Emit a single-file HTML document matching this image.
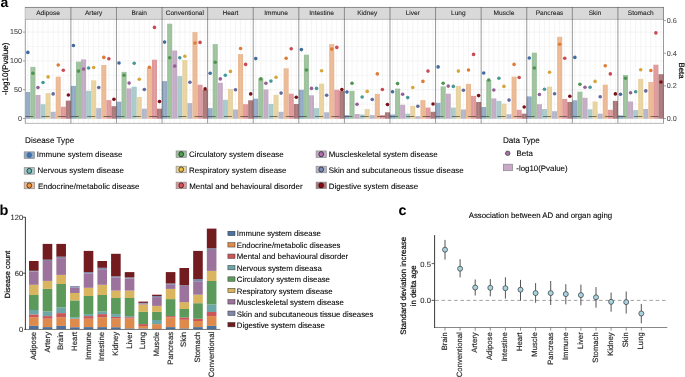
<!DOCTYPE html>
<html><head><meta charset="utf-8"><style>text{text-rendering:geometricPrecision}html,body{margin:0;padding:0;background:#fff;width:685px;height:377px;overflow:hidden;position:relative}</style></head><body>
<div style="position:absolute;left:0;top:0;width:685px;height:377px;will-change:transform"><svg width="685" height="377" viewBox="0 0 685 377" style="position:absolute;left:0;top:0" text-rendering="geometricPrecision" font-family='"Liberation Sans", sans-serif'>
<rect width="685" height="377" fill="#fff"/>
<text x="0.6" y="7.2" font-size="14.0" font-weight="bold" fill="#000">a</text>
<line x1="25.30" x2="25.30" y1="7.2" y2="123.2" stroke="#333" stroke-width="0.5"/>
<line x1="25.3" x2="663.5" y1="118.50" y2="118.50" stroke="#EBEBEB" stroke-width="0.6"/>
<line x1="25.3" x2="663.5" y1="89.70" y2="89.70" stroke="#EBEBEB" stroke-width="0.6"/>
<line x1="25.3" x2="663.5" y1="60.90" y2="60.90" stroke="#EBEBEB" stroke-width="0.6"/>
<line x1="25.3" x2="663.5" y1="32.10" y2="32.10" stroke="#EBEBEB" stroke-width="0.6"/>
<line x1="25.3" x2="663.5" y1="104.10" y2="104.10" stroke="#EBEBEB" stroke-width="0.4"/>
<line x1="25.3" x2="663.5" y1="75.30" y2="75.30" stroke="#EBEBEB" stroke-width="0.4"/>
<line x1="25.3" x2="663.5" y1="46.50" y2="46.50" stroke="#EBEBEB" stroke-width="0.4"/>
<line x1="27.83" x2="27.83" y1="19.5" y2="123.2" stroke="#EBEBEB" stroke-width="0.5"/>
<line x1="32.90" x2="32.90" y1="19.5" y2="123.2" stroke="#EBEBEB" stroke-width="0.5"/>
<line x1="37.96" x2="37.96" y1="19.5" y2="123.2" stroke="#EBEBEB" stroke-width="0.5"/>
<line x1="43.03" x2="43.03" y1="19.5" y2="123.2" stroke="#EBEBEB" stroke-width="0.5"/>
<line x1="48.09" x2="48.09" y1="19.5" y2="123.2" stroke="#EBEBEB" stroke-width="0.5"/>
<line x1="53.16" x2="53.16" y1="19.5" y2="123.2" stroke="#EBEBEB" stroke-width="0.5"/>
<line x1="58.22" x2="58.22" y1="19.5" y2="123.2" stroke="#EBEBEB" stroke-width="0.5"/>
<line x1="63.29" x2="63.29" y1="19.5" y2="123.2" stroke="#EBEBEB" stroke-width="0.5"/>
<line x1="68.35" x2="68.35" y1="19.5" y2="123.2" stroke="#EBEBEB" stroke-width="0.5"/>
<line x1="73.42" x2="73.42" y1="19.5" y2="123.2" stroke="#EBEBEB" stroke-width="0.5"/>
<line x1="78.48" x2="78.48" y1="19.5" y2="123.2" stroke="#EBEBEB" stroke-width="0.5"/>
<line x1="83.55" x2="83.55" y1="19.5" y2="123.2" stroke="#EBEBEB" stroke-width="0.5"/>
<line x1="88.61" x2="88.61" y1="19.5" y2="123.2" stroke="#EBEBEB" stroke-width="0.5"/>
<line x1="93.68" x2="93.68" y1="19.5" y2="123.2" stroke="#EBEBEB" stroke-width="0.5"/>
<line x1="98.74" x2="98.74" y1="19.5" y2="123.2" stroke="#EBEBEB" stroke-width="0.5"/>
<line x1="103.81" x2="103.81" y1="19.5" y2="123.2" stroke="#EBEBEB" stroke-width="0.5"/>
<line x1="108.87" x2="108.87" y1="19.5" y2="123.2" stroke="#EBEBEB" stroke-width="0.5"/>
<line x1="113.94" x2="113.94" y1="19.5" y2="123.2" stroke="#EBEBEB" stroke-width="0.5"/>
<line x1="119.00" x2="119.00" y1="19.5" y2="123.2" stroke="#EBEBEB" stroke-width="0.5"/>
<line x1="124.07" x2="124.07" y1="19.5" y2="123.2" stroke="#EBEBEB" stroke-width="0.5"/>
<line x1="129.13" x2="129.13" y1="19.5" y2="123.2" stroke="#EBEBEB" stroke-width="0.5"/>
<line x1="134.20" x2="134.20" y1="19.5" y2="123.2" stroke="#EBEBEB" stroke-width="0.5"/>
<line x1="139.26" x2="139.26" y1="19.5" y2="123.2" stroke="#EBEBEB" stroke-width="0.5"/>
<line x1="144.33" x2="144.33" y1="19.5" y2="123.2" stroke="#EBEBEB" stroke-width="0.5"/>
<line x1="149.39" x2="149.39" y1="19.5" y2="123.2" stroke="#EBEBEB" stroke-width="0.5"/>
<line x1="154.46" x2="154.46" y1="19.5" y2="123.2" stroke="#EBEBEB" stroke-width="0.5"/>
<line x1="159.52" x2="159.52" y1="19.5" y2="123.2" stroke="#EBEBEB" stroke-width="0.5"/>
<line x1="164.59" x2="164.59" y1="19.5" y2="123.2" stroke="#EBEBEB" stroke-width="0.5"/>
<line x1="169.65" x2="169.65" y1="19.5" y2="123.2" stroke="#EBEBEB" stroke-width="0.5"/>
<line x1="174.72" x2="174.72" y1="19.5" y2="123.2" stroke="#EBEBEB" stroke-width="0.5"/>
<line x1="179.78" x2="179.78" y1="19.5" y2="123.2" stroke="#EBEBEB" stroke-width="0.5"/>
<line x1="184.85" x2="184.85" y1="19.5" y2="123.2" stroke="#EBEBEB" stroke-width="0.5"/>
<line x1="189.92" x2="189.92" y1="19.5" y2="123.2" stroke="#EBEBEB" stroke-width="0.5"/>
<line x1="194.98" x2="194.98" y1="19.5" y2="123.2" stroke="#EBEBEB" stroke-width="0.5"/>
<line x1="200.05" x2="200.05" y1="19.5" y2="123.2" stroke="#EBEBEB" stroke-width="0.5"/>
<line x1="205.11" x2="205.11" y1="19.5" y2="123.2" stroke="#EBEBEB" stroke-width="0.5"/>
<line x1="210.18" x2="210.18" y1="19.5" y2="123.2" stroke="#EBEBEB" stroke-width="0.5"/>
<line x1="215.24" x2="215.24" y1="19.5" y2="123.2" stroke="#EBEBEB" stroke-width="0.5"/>
<line x1="220.31" x2="220.31" y1="19.5" y2="123.2" stroke="#EBEBEB" stroke-width="0.5"/>
<line x1="225.37" x2="225.37" y1="19.5" y2="123.2" stroke="#EBEBEB" stroke-width="0.5"/>
<line x1="230.44" x2="230.44" y1="19.5" y2="123.2" stroke="#EBEBEB" stroke-width="0.5"/>
<line x1="235.50" x2="235.50" y1="19.5" y2="123.2" stroke="#EBEBEB" stroke-width="0.5"/>
<line x1="240.57" x2="240.57" y1="19.5" y2="123.2" stroke="#EBEBEB" stroke-width="0.5"/>
<line x1="245.63" x2="245.63" y1="19.5" y2="123.2" stroke="#EBEBEB" stroke-width="0.5"/>
<line x1="250.70" x2="250.70" y1="19.5" y2="123.2" stroke="#EBEBEB" stroke-width="0.5"/>
<line x1="255.76" x2="255.76" y1="19.5" y2="123.2" stroke="#EBEBEB" stroke-width="0.5"/>
<line x1="260.83" x2="260.83" y1="19.5" y2="123.2" stroke="#EBEBEB" stroke-width="0.5"/>
<line x1="265.89" x2="265.89" y1="19.5" y2="123.2" stroke="#EBEBEB" stroke-width="0.5"/>
<line x1="270.96" x2="270.96" y1="19.5" y2="123.2" stroke="#EBEBEB" stroke-width="0.5"/>
<line x1="276.02" x2="276.02" y1="19.5" y2="123.2" stroke="#EBEBEB" stroke-width="0.5"/>
<line x1="281.09" x2="281.09" y1="19.5" y2="123.2" stroke="#EBEBEB" stroke-width="0.5"/>
<line x1="286.15" x2="286.15" y1="19.5" y2="123.2" stroke="#EBEBEB" stroke-width="0.5"/>
<line x1="291.22" x2="291.22" y1="19.5" y2="123.2" stroke="#EBEBEB" stroke-width="0.5"/>
<line x1="296.28" x2="296.28" y1="19.5" y2="123.2" stroke="#EBEBEB" stroke-width="0.5"/>
<line x1="301.35" x2="301.35" y1="19.5" y2="123.2" stroke="#EBEBEB" stroke-width="0.5"/>
<line x1="306.41" x2="306.41" y1="19.5" y2="123.2" stroke="#EBEBEB" stroke-width="0.5"/>
<line x1="311.48" x2="311.48" y1="19.5" y2="123.2" stroke="#EBEBEB" stroke-width="0.5"/>
<line x1="316.54" x2="316.54" y1="19.5" y2="123.2" stroke="#EBEBEB" stroke-width="0.5"/>
<line x1="321.61" x2="321.61" y1="19.5" y2="123.2" stroke="#EBEBEB" stroke-width="0.5"/>
<line x1="326.67" x2="326.67" y1="19.5" y2="123.2" stroke="#EBEBEB" stroke-width="0.5"/>
<line x1="331.74" x2="331.74" y1="19.5" y2="123.2" stroke="#EBEBEB" stroke-width="0.5"/>
<line x1="336.80" x2="336.80" y1="19.5" y2="123.2" stroke="#EBEBEB" stroke-width="0.5"/>
<line x1="341.87" x2="341.87" y1="19.5" y2="123.2" stroke="#EBEBEB" stroke-width="0.5"/>
<line x1="346.93" x2="346.93" y1="19.5" y2="123.2" stroke="#EBEBEB" stroke-width="0.5"/>
<line x1="352.00" x2="352.00" y1="19.5" y2="123.2" stroke="#EBEBEB" stroke-width="0.5"/>
<line x1="357.06" x2="357.06" y1="19.5" y2="123.2" stroke="#EBEBEB" stroke-width="0.5"/>
<line x1="362.13" x2="362.13" y1="19.5" y2="123.2" stroke="#EBEBEB" stroke-width="0.5"/>
<line x1="367.19" x2="367.19" y1="19.5" y2="123.2" stroke="#EBEBEB" stroke-width="0.5"/>
<line x1="372.26" x2="372.26" y1="19.5" y2="123.2" stroke="#EBEBEB" stroke-width="0.5"/>
<line x1="377.32" x2="377.32" y1="19.5" y2="123.2" stroke="#EBEBEB" stroke-width="0.5"/>
<line x1="382.39" x2="382.39" y1="19.5" y2="123.2" stroke="#EBEBEB" stroke-width="0.5"/>
<line x1="387.45" x2="387.45" y1="19.5" y2="123.2" stroke="#EBEBEB" stroke-width="0.5"/>
<line x1="392.52" x2="392.52" y1="19.5" y2="123.2" stroke="#EBEBEB" stroke-width="0.5"/>
<line x1="397.58" x2="397.58" y1="19.5" y2="123.2" stroke="#EBEBEB" stroke-width="0.5"/>
<line x1="402.65" x2="402.65" y1="19.5" y2="123.2" stroke="#EBEBEB" stroke-width="0.5"/>
<line x1="407.71" x2="407.71" y1="19.5" y2="123.2" stroke="#EBEBEB" stroke-width="0.5"/>
<line x1="412.78" x2="412.78" y1="19.5" y2="123.2" stroke="#EBEBEB" stroke-width="0.5"/>
<line x1="417.84" x2="417.84" y1="19.5" y2="123.2" stroke="#EBEBEB" stroke-width="0.5"/>
<line x1="422.91" x2="422.91" y1="19.5" y2="123.2" stroke="#EBEBEB" stroke-width="0.5"/>
<line x1="427.97" x2="427.97" y1="19.5" y2="123.2" stroke="#EBEBEB" stroke-width="0.5"/>
<line x1="433.04" x2="433.04" y1="19.5" y2="123.2" stroke="#EBEBEB" stroke-width="0.5"/>
<line x1="438.10" x2="438.10" y1="19.5" y2="123.2" stroke="#EBEBEB" stroke-width="0.5"/>
<line x1="443.17" x2="443.17" y1="19.5" y2="123.2" stroke="#EBEBEB" stroke-width="0.5"/>
<line x1="448.23" x2="448.23" y1="19.5" y2="123.2" stroke="#EBEBEB" stroke-width="0.5"/>
<line x1="453.30" x2="453.30" y1="19.5" y2="123.2" stroke="#EBEBEB" stroke-width="0.5"/>
<line x1="458.36" x2="458.36" y1="19.5" y2="123.2" stroke="#EBEBEB" stroke-width="0.5"/>
<line x1="463.43" x2="463.43" y1="19.5" y2="123.2" stroke="#EBEBEB" stroke-width="0.5"/>
<line x1="468.49" x2="468.49" y1="19.5" y2="123.2" stroke="#EBEBEB" stroke-width="0.5"/>
<line x1="473.56" x2="473.56" y1="19.5" y2="123.2" stroke="#EBEBEB" stroke-width="0.5"/>
<line x1="478.62" x2="478.62" y1="19.5" y2="123.2" stroke="#EBEBEB" stroke-width="0.5"/>
<line x1="483.69" x2="483.69" y1="19.5" y2="123.2" stroke="#EBEBEB" stroke-width="0.5"/>
<line x1="488.75" x2="488.75" y1="19.5" y2="123.2" stroke="#EBEBEB" stroke-width="0.5"/>
<line x1="493.82" x2="493.82" y1="19.5" y2="123.2" stroke="#EBEBEB" stroke-width="0.5"/>
<line x1="498.88" x2="498.88" y1="19.5" y2="123.2" stroke="#EBEBEB" stroke-width="0.5"/>
<line x1="503.95" x2="503.95" y1="19.5" y2="123.2" stroke="#EBEBEB" stroke-width="0.5"/>
<line x1="509.02" x2="509.02" y1="19.5" y2="123.2" stroke="#EBEBEB" stroke-width="0.5"/>
<line x1="514.08" x2="514.08" y1="19.5" y2="123.2" stroke="#EBEBEB" stroke-width="0.5"/>
<line x1="519.15" x2="519.15" y1="19.5" y2="123.2" stroke="#EBEBEB" stroke-width="0.5"/>
<line x1="524.21" x2="524.21" y1="19.5" y2="123.2" stroke="#EBEBEB" stroke-width="0.5"/>
<line x1="529.28" x2="529.28" y1="19.5" y2="123.2" stroke="#EBEBEB" stroke-width="0.5"/>
<line x1="534.34" x2="534.34" y1="19.5" y2="123.2" stroke="#EBEBEB" stroke-width="0.5"/>
<line x1="539.41" x2="539.41" y1="19.5" y2="123.2" stroke="#EBEBEB" stroke-width="0.5"/>
<line x1="544.47" x2="544.47" y1="19.5" y2="123.2" stroke="#EBEBEB" stroke-width="0.5"/>
<line x1="549.54" x2="549.54" y1="19.5" y2="123.2" stroke="#EBEBEB" stroke-width="0.5"/>
<line x1="554.60" x2="554.60" y1="19.5" y2="123.2" stroke="#EBEBEB" stroke-width="0.5"/>
<line x1="559.67" x2="559.67" y1="19.5" y2="123.2" stroke="#EBEBEB" stroke-width="0.5"/>
<line x1="564.73" x2="564.73" y1="19.5" y2="123.2" stroke="#EBEBEB" stroke-width="0.5"/>
<line x1="569.80" x2="569.80" y1="19.5" y2="123.2" stroke="#EBEBEB" stroke-width="0.5"/>
<line x1="574.86" x2="574.86" y1="19.5" y2="123.2" stroke="#EBEBEB" stroke-width="0.5"/>
<line x1="579.93" x2="579.93" y1="19.5" y2="123.2" stroke="#EBEBEB" stroke-width="0.5"/>
<line x1="584.99" x2="584.99" y1="19.5" y2="123.2" stroke="#EBEBEB" stroke-width="0.5"/>
<line x1="590.06" x2="590.06" y1="19.5" y2="123.2" stroke="#EBEBEB" stroke-width="0.5"/>
<line x1="595.12" x2="595.12" y1="19.5" y2="123.2" stroke="#EBEBEB" stroke-width="0.5"/>
<line x1="600.19" x2="600.19" y1="19.5" y2="123.2" stroke="#EBEBEB" stroke-width="0.5"/>
<line x1="605.25" x2="605.25" y1="19.5" y2="123.2" stroke="#EBEBEB" stroke-width="0.5"/>
<line x1="610.32" x2="610.32" y1="19.5" y2="123.2" stroke="#EBEBEB" stroke-width="0.5"/>
<line x1="615.38" x2="615.38" y1="19.5" y2="123.2" stroke="#EBEBEB" stroke-width="0.5"/>
<line x1="620.45" x2="620.45" y1="19.5" y2="123.2" stroke="#EBEBEB" stroke-width="0.5"/>
<line x1="625.51" x2="625.51" y1="19.5" y2="123.2" stroke="#EBEBEB" stroke-width="0.5"/>
<line x1="630.58" x2="630.58" y1="19.5" y2="123.2" stroke="#EBEBEB" stroke-width="0.5"/>
<line x1="635.64" x2="635.64" y1="19.5" y2="123.2" stroke="#EBEBEB" stroke-width="0.5"/>
<line x1="640.71" x2="640.71" y1="19.5" y2="123.2" stroke="#EBEBEB" stroke-width="0.5"/>
<line x1="645.77" x2="645.77" y1="19.5" y2="123.2" stroke="#EBEBEB" stroke-width="0.5"/>
<line x1="650.84" x2="650.84" y1="19.5" y2="123.2" stroke="#EBEBEB" stroke-width="0.5"/>
<line x1="655.90" x2="655.90" y1="19.5" y2="123.2" stroke="#EBEBEB" stroke-width="0.5"/>
<line x1="660.97" x2="660.97" y1="19.5" y2="123.2" stroke="#EBEBEB" stroke-width="0.5"/>
<rect x="25.30" y="92.00" width="5.07" height="26.70" fill="#92AAC6"/>
<rect x="30.37" y="66.90" width="5.07" height="51.80" fill="#9DC29D"/>
<rect x="35.43" y="95.00" width="5.07" height="23.70" fill="#C4ABC4"/>
<rect x="40.50" y="104.20" width="5.07" height="14.50" fill="#A7CACA"/>
<rect x="45.56" y="93.10" width="5.07" height="25.60" fill="#E8D3A0"/>
<rect x="50.63" y="111.80" width="5.07" height="6.90" fill="#B2B6CB"/>
<rect x="55.69" y="76.70" width="5.07" height="42.00" fill="#EBB994"/>
<rect x="60.76" y="106.70" width="5.07" height="12.00" fill="#E0999B"/>
<rect x="65.82" y="100.60" width="5.07" height="18.10" fill="#AB7779"/>
<rect x="70.89" y="85.90" width="5.07" height="32.80" fill="#92AAC6"/>
<rect x="75.95" y="61.60" width="5.07" height="57.10" fill="#9DC29D"/>
<rect x="81.02" y="59.40" width="5.07" height="59.30" fill="#C4ABC4"/>
<rect x="86.08" y="90.90" width="5.07" height="27.80" fill="#A7CACA"/>
<rect x="91.15" y="80.30" width="5.07" height="38.40" fill="#E8D3A0"/>
<rect x="96.21" y="108.10" width="5.07" height="10.60" fill="#B2B6CB"/>
<rect x="101.28" y="65.00" width="5.07" height="53.70" fill="#EBB994"/>
<rect x="106.34" y="100.10" width="5.07" height="18.60" fill="#E0999B"/>
<rect x="111.41" y="106.20" width="5.07" height="12.50" fill="#AB7779"/>
<rect x="116.47" y="101.70" width="5.07" height="17.00" fill="#92AAC6"/>
<rect x="121.54" y="71.90" width="5.07" height="46.80" fill="#9DC29D"/>
<rect x="126.60" y="88.40" width="5.07" height="30.30" fill="#C4ABC4"/>
<rect x="131.67" y="86.70" width="5.07" height="32.00" fill="#A7CACA"/>
<rect x="136.73" y="97.00" width="5.07" height="21.70" fill="#E8D3A0"/>
<rect x="141.80" y="108.70" width="5.07" height="10.00" fill="#B2B6CB"/>
<rect x="146.86" y="67.70" width="5.07" height="51.00" fill="#EBB994"/>
<rect x="151.93" y="59.70" width="5.07" height="59.00" fill="#E0999B"/>
<rect x="156.99" y="108.70" width="5.07" height="10.00" fill="#AB7779"/>
<rect x="162.06" y="81.10" width="5.07" height="37.60" fill="#92AAC6"/>
<rect x="167.12" y="23.70" width="5.07" height="95.00" fill="#9DC29D"/>
<rect x="172.19" y="50.50" width="5.07" height="68.20" fill="#C4ABC4"/>
<rect x="177.25" y="76.10" width="5.07" height="42.60" fill="#A7CACA"/>
<rect x="182.32" y="60.00" width="5.07" height="58.70" fill="#E8D3A0"/>
<rect x="187.38" y="103.10" width="5.07" height="15.60" fill="#B2B6CB"/>
<rect x="192.45" y="32.10" width="5.07" height="86.60" fill="#EBB994"/>
<rect x="197.51" y="84.70" width="5.07" height="34.00" fill="#E0999B"/>
<rect x="202.58" y="90.00" width="5.07" height="28.70" fill="#AB7779"/>
<rect x="207.64" y="108.10" width="5.07" height="10.60" fill="#92AAC6"/>
<rect x="212.71" y="44.10" width="5.07" height="74.60" fill="#9DC29D"/>
<rect x="217.77" y="82.80" width="5.07" height="35.90" fill="#C4ABC4"/>
<rect x="222.84" y="99.80" width="5.07" height="18.90" fill="#A7CACA"/>
<rect x="227.90" y="88.90" width="5.07" height="29.80" fill="#E8D3A0"/>
<rect x="232.97" y="109.50" width="5.07" height="9.20" fill="#B2B6CB"/>
<rect x="238.03" y="54.10" width="5.07" height="64.60" fill="#EBB994"/>
<rect x="243.10" y="104.20" width="5.07" height="14.50" fill="#E0999B"/>
<rect x="248.16" y="100.30" width="5.07" height="18.40" fill="#AB7779"/>
<rect x="253.23" y="98.70" width="5.07" height="20.00" fill="#92AAC6"/>
<rect x="258.29" y="78.30" width="5.07" height="40.40" fill="#9DC29D"/>
<rect x="263.36" y="89.50" width="5.07" height="29.20" fill="#C4ABC4"/>
<rect x="268.42" y="104.00" width="5.07" height="14.70" fill="#A7CACA"/>
<rect x="273.49" y="94.80" width="5.07" height="23.90" fill="#E8D3A0"/>
<rect x="278.55" y="111.80" width="5.07" height="6.90" fill="#B2B6CB"/>
<rect x="283.62" y="68.30" width="5.07" height="50.40" fill="#EBB994"/>
<rect x="288.68" y="93.70" width="5.07" height="25.00" fill="#E0999B"/>
<rect x="293.75" y="104.00" width="5.07" height="14.70" fill="#AB7779"/>
<rect x="298.81" y="89.80" width="5.07" height="28.90" fill="#92AAC6"/>
<rect x="303.88" y="54.70" width="5.07" height="64.00" fill="#9DC29D"/>
<rect x="308.94" y="95.30" width="5.07" height="23.40" fill="#C4ABC4"/>
<rect x="314.01" y="108.10" width="5.07" height="10.60" fill="#A7CACA"/>
<rect x="319.07" y="83.60" width="5.07" height="35.10" fill="#E8D3A0"/>
<rect x="324.14" y="112.30" width="5.07" height="6.40" fill="#B2B6CB"/>
<rect x="329.20" y="44.10" width="5.07" height="74.60" fill="#EBB994"/>
<rect x="334.27" y="89.80" width="5.07" height="28.90" fill="#E0999B"/>
<rect x="339.33" y="90.90" width="5.07" height="27.80" fill="#AB7779"/>
<rect x="344.40" y="115.10" width="5.07" height="3.60" fill="#92AAC6"/>
<rect x="349.47" y="90.90" width="5.07" height="27.80" fill="#9DC29D"/>
<rect x="354.53" y="114.00" width="5.07" height="4.70" fill="#C4ABC4"/>
<rect x="359.60" y="114.50" width="5.07" height="4.20" fill="#A7CACA"/>
<rect x="364.66" y="109.00" width="5.07" height="9.70" fill="#E8D3A0"/>
<rect x="369.73" y="115.10" width="5.07" height="3.60" fill="#B2B6CB"/>
<rect x="374.79" y="93.90" width="5.07" height="24.80" fill="#EBB994"/>
<rect x="379.86" y="115.10" width="5.07" height="3.60" fill="#E0999B"/>
<rect x="384.92" y="112.30" width="5.07" height="6.40" fill="#AB7779"/>
<rect x="389.99" y="114.50" width="5.07" height="4.20" fill="#92AAC6"/>
<rect x="395.05" y="88.60" width="5.07" height="30.10" fill="#9DC29D"/>
<rect x="400.12" y="104.80" width="5.07" height="13.90" fill="#C4ABC4"/>
<rect x="405.18" y="113.70" width="5.07" height="5.00" fill="#A7CACA"/>
<rect x="410.25" y="105.90" width="5.07" height="12.80" fill="#E8D3A0"/>
<rect x="415.31" y="116.20" width="5.07" height="2.50" fill="#B2B6CB"/>
<rect x="420.38" y="100.10" width="5.07" height="18.60" fill="#EBB994"/>
<rect x="425.44" y="107.60" width="5.07" height="11.10" fill="#E0999B"/>
<rect x="430.51" y="111.80" width="5.07" height="6.90" fill="#AB7779"/>
<rect x="435.57" y="102.80" width="5.07" height="15.90" fill="#92AAC6"/>
<rect x="440.64" y="86.40" width="5.07" height="32.30" fill="#9DC29D"/>
<rect x="445.70" y="93.70" width="5.07" height="25.00" fill="#C4ABC4"/>
<rect x="450.77" y="107.60" width="5.07" height="11.10" fill="#A7CACA"/>
<rect x="455.83" y="85.90" width="5.07" height="32.80" fill="#E8D3A0"/>
<rect x="460.90" y="109.50" width="5.07" height="9.20" fill="#B2B6CB"/>
<rect x="465.96" y="83.90" width="5.07" height="34.80" fill="#EBB994"/>
<rect x="471.03" y="95.90" width="5.07" height="22.80" fill="#E0999B"/>
<rect x="476.09" y="102.00" width="5.07" height="16.70" fill="#AB7779"/>
<rect x="481.16" y="107.00" width="5.07" height="11.70" fill="#92AAC6"/>
<rect x="486.22" y="80.00" width="5.07" height="38.70" fill="#9DC29D"/>
<rect x="491.29" y="98.40" width="5.07" height="20.30" fill="#C4ABC4"/>
<rect x="496.35" y="100.90" width="5.07" height="17.80" fill="#A7CACA"/>
<rect x="501.42" y="103.70" width="5.07" height="15.00" fill="#E8D3A0"/>
<rect x="506.48" y="114.30" width="5.07" height="4.40" fill="#B2B6CB"/>
<rect x="511.55" y="76.70" width="5.07" height="42.00" fill="#EBB994"/>
<rect x="516.61" y="109.80" width="5.07" height="8.90" fill="#E0999B"/>
<rect x="521.68" y="113.70" width="5.07" height="5.00" fill="#AB7779"/>
<rect x="526.74" y="96.40" width="5.07" height="22.30" fill="#92AAC6"/>
<rect x="531.81" y="52.70" width="5.07" height="66.00" fill="#9DC29D"/>
<rect x="536.87" y="104.20" width="5.07" height="14.50" fill="#C4ABC4"/>
<rect x="541.94" y="109.00" width="5.07" height="9.70" fill="#A7CACA"/>
<rect x="547.00" y="86.70" width="5.07" height="32.00" fill="#E8D3A0"/>
<rect x="552.07" y="111.20" width="5.07" height="7.50" fill="#B2B6CB"/>
<rect x="557.13" y="36.80" width="5.07" height="81.90" fill="#EBB994"/>
<rect x="562.20" y="98.90" width="5.07" height="19.80" fill="#E0999B"/>
<rect x="567.26" y="102.00" width="5.07" height="16.70" fill="#AB7779"/>
<rect x="572.33" y="100.30" width="5.07" height="18.40" fill="#92AAC6"/>
<rect x="577.39" y="91.70" width="5.07" height="27.00" fill="#9DC29D"/>
<rect x="582.46" y="97.80" width="5.07" height="20.90" fill="#C4ABC4"/>
<rect x="587.52" y="109.30" width="5.07" height="9.40" fill="#A7CACA"/>
<rect x="592.59" y="101.50" width="5.07" height="17.20" fill="#E8D3A0"/>
<rect x="597.65" y="113.70" width="5.07" height="5.00" fill="#B2B6CB"/>
<rect x="602.72" y="84.70" width="5.07" height="34.00" fill="#EBB994"/>
<rect x="607.78" y="109.80" width="5.07" height="8.90" fill="#E0999B"/>
<rect x="612.85" y="100.90" width="5.07" height="17.80" fill="#AB7779"/>
<rect x="617.91" y="115.40" width="5.07" height="3.30" fill="#92AAC6"/>
<rect x="622.98" y="75.00" width="5.07" height="43.70" fill="#9DC29D"/>
<rect x="628.04" y="101.50" width="5.07" height="17.20" fill="#C4ABC4"/>
<rect x="633.11" y="110.10" width="5.07" height="8.60" fill="#A7CACA"/>
<rect x="638.17" y="78.90" width="5.07" height="39.80" fill="#E8D3A0"/>
<rect x="643.24" y="109.00" width="5.07" height="9.70" fill="#B2B6CB"/>
<rect x="648.30" y="82.00" width="5.07" height="36.70" fill="#EBB994"/>
<rect x="653.37" y="64.70" width="5.07" height="54.00" fill="#E0999B"/>
<rect x="658.43" y="74.20" width="5.07" height="44.50" fill="#AB7779"/>
<line x1="27.83" x2="27.83" y1="92.00" y2="118.70" stroke="#fff" stroke-opacity="0.12" stroke-width="0.8"/>
<line x1="32.90" x2="32.90" y1="66.90" y2="118.70" stroke="#fff" stroke-opacity="0.12" stroke-width="0.8"/>
<line x1="37.96" x2="37.96" y1="95.00" y2="118.70" stroke="#fff" stroke-opacity="0.12" stroke-width="0.8"/>
<line x1="43.03" x2="43.03" y1="104.20" y2="118.70" stroke="#fff" stroke-opacity="0.12" stroke-width="0.8"/>
<line x1="48.09" x2="48.09" y1="93.10" y2="118.70" stroke="#fff" stroke-opacity="0.12" stroke-width="0.8"/>
<line x1="53.16" x2="53.16" y1="111.80" y2="118.70" stroke="#fff" stroke-opacity="0.12" stroke-width="0.8"/>
<line x1="58.22" x2="58.22" y1="76.70" y2="118.70" stroke="#fff" stroke-opacity="0.12" stroke-width="0.8"/>
<line x1="63.29" x2="63.29" y1="106.70" y2="118.70" stroke="#fff" stroke-opacity="0.12" stroke-width="0.8"/>
<line x1="68.35" x2="68.35" y1="100.60" y2="118.70" stroke="#fff" stroke-opacity="0.12" stroke-width="0.8"/>
<line x1="73.42" x2="73.42" y1="85.90" y2="118.70" stroke="#fff" stroke-opacity="0.12" stroke-width="0.8"/>
<line x1="78.48" x2="78.48" y1="61.60" y2="118.70" stroke="#fff" stroke-opacity="0.12" stroke-width="0.8"/>
<line x1="83.55" x2="83.55" y1="59.40" y2="118.70" stroke="#fff" stroke-opacity="0.12" stroke-width="0.8"/>
<line x1="88.61" x2="88.61" y1="90.90" y2="118.70" stroke="#fff" stroke-opacity="0.12" stroke-width="0.8"/>
<line x1="93.68" x2="93.68" y1="80.30" y2="118.70" stroke="#fff" stroke-opacity="0.12" stroke-width="0.8"/>
<line x1="98.74" x2="98.74" y1="108.10" y2="118.70" stroke="#fff" stroke-opacity="0.12" stroke-width="0.8"/>
<line x1="103.81" x2="103.81" y1="65.00" y2="118.70" stroke="#fff" stroke-opacity="0.12" stroke-width="0.8"/>
<line x1="108.87" x2="108.87" y1="100.10" y2="118.70" stroke="#fff" stroke-opacity="0.12" stroke-width="0.8"/>
<line x1="113.94" x2="113.94" y1="106.20" y2="118.70" stroke="#fff" stroke-opacity="0.12" stroke-width="0.8"/>
<line x1="119.00" x2="119.00" y1="101.70" y2="118.70" stroke="#fff" stroke-opacity="0.12" stroke-width="0.8"/>
<line x1="124.07" x2="124.07" y1="71.90" y2="118.70" stroke="#fff" stroke-opacity="0.12" stroke-width="0.8"/>
<line x1="129.13" x2="129.13" y1="88.40" y2="118.70" stroke="#fff" stroke-opacity="0.12" stroke-width="0.8"/>
<line x1="134.20" x2="134.20" y1="86.70" y2="118.70" stroke="#fff" stroke-opacity="0.12" stroke-width="0.8"/>
<line x1="139.26" x2="139.26" y1="97.00" y2="118.70" stroke="#fff" stroke-opacity="0.12" stroke-width="0.8"/>
<line x1="144.33" x2="144.33" y1="108.70" y2="118.70" stroke="#fff" stroke-opacity="0.12" stroke-width="0.8"/>
<line x1="149.39" x2="149.39" y1="67.70" y2="118.70" stroke="#fff" stroke-opacity="0.12" stroke-width="0.8"/>
<line x1="154.46" x2="154.46" y1="59.70" y2="118.70" stroke="#fff" stroke-opacity="0.12" stroke-width="0.8"/>
<line x1="159.52" x2="159.52" y1="108.70" y2="118.70" stroke="#fff" stroke-opacity="0.12" stroke-width="0.8"/>
<line x1="164.59" x2="164.59" y1="81.10" y2="118.70" stroke="#fff" stroke-opacity="0.12" stroke-width="0.8"/>
<line x1="169.65" x2="169.65" y1="23.70" y2="118.70" stroke="#fff" stroke-opacity="0.12" stroke-width="0.8"/>
<line x1="174.72" x2="174.72" y1="50.50" y2="118.70" stroke="#fff" stroke-opacity="0.12" stroke-width="0.8"/>
<line x1="179.78" x2="179.78" y1="76.10" y2="118.70" stroke="#fff" stroke-opacity="0.12" stroke-width="0.8"/>
<line x1="184.85" x2="184.85" y1="60.00" y2="118.70" stroke="#fff" stroke-opacity="0.12" stroke-width="0.8"/>
<line x1="189.92" x2="189.92" y1="103.10" y2="118.70" stroke="#fff" stroke-opacity="0.12" stroke-width="0.8"/>
<line x1="194.98" x2="194.98" y1="32.10" y2="118.70" stroke="#fff" stroke-opacity="0.12" stroke-width="0.8"/>
<line x1="200.05" x2="200.05" y1="84.70" y2="118.70" stroke="#fff" stroke-opacity="0.12" stroke-width="0.8"/>
<line x1="205.11" x2="205.11" y1="90.00" y2="118.70" stroke="#fff" stroke-opacity="0.12" stroke-width="0.8"/>
<line x1="210.18" x2="210.18" y1="108.10" y2="118.70" stroke="#fff" stroke-opacity="0.12" stroke-width="0.8"/>
<line x1="215.24" x2="215.24" y1="44.10" y2="118.70" stroke="#fff" stroke-opacity="0.12" stroke-width="0.8"/>
<line x1="220.31" x2="220.31" y1="82.80" y2="118.70" stroke="#fff" stroke-opacity="0.12" stroke-width="0.8"/>
<line x1="225.37" x2="225.37" y1="99.80" y2="118.70" stroke="#fff" stroke-opacity="0.12" stroke-width="0.8"/>
<line x1="230.44" x2="230.44" y1="88.90" y2="118.70" stroke="#fff" stroke-opacity="0.12" stroke-width="0.8"/>
<line x1="235.50" x2="235.50" y1="109.50" y2="118.70" stroke="#fff" stroke-opacity="0.12" stroke-width="0.8"/>
<line x1="240.57" x2="240.57" y1="54.10" y2="118.70" stroke="#fff" stroke-opacity="0.12" stroke-width="0.8"/>
<line x1="245.63" x2="245.63" y1="104.20" y2="118.70" stroke="#fff" stroke-opacity="0.12" stroke-width="0.8"/>
<line x1="250.70" x2="250.70" y1="100.30" y2="118.70" stroke="#fff" stroke-opacity="0.12" stroke-width="0.8"/>
<line x1="255.76" x2="255.76" y1="98.70" y2="118.70" stroke="#fff" stroke-opacity="0.12" stroke-width="0.8"/>
<line x1="260.83" x2="260.83" y1="78.30" y2="118.70" stroke="#fff" stroke-opacity="0.12" stroke-width="0.8"/>
<line x1="265.89" x2="265.89" y1="89.50" y2="118.70" stroke="#fff" stroke-opacity="0.12" stroke-width="0.8"/>
<line x1="270.96" x2="270.96" y1="104.00" y2="118.70" stroke="#fff" stroke-opacity="0.12" stroke-width="0.8"/>
<line x1="276.02" x2="276.02" y1="94.80" y2="118.70" stroke="#fff" stroke-opacity="0.12" stroke-width="0.8"/>
<line x1="281.09" x2="281.09" y1="111.80" y2="118.70" stroke="#fff" stroke-opacity="0.12" stroke-width="0.8"/>
<line x1="286.15" x2="286.15" y1="68.30" y2="118.70" stroke="#fff" stroke-opacity="0.12" stroke-width="0.8"/>
<line x1="291.22" x2="291.22" y1="93.70" y2="118.70" stroke="#fff" stroke-opacity="0.12" stroke-width="0.8"/>
<line x1="296.28" x2="296.28" y1="104.00" y2="118.70" stroke="#fff" stroke-opacity="0.12" stroke-width="0.8"/>
<line x1="301.35" x2="301.35" y1="89.80" y2="118.70" stroke="#fff" stroke-opacity="0.12" stroke-width="0.8"/>
<line x1="306.41" x2="306.41" y1="54.70" y2="118.70" stroke="#fff" stroke-opacity="0.12" stroke-width="0.8"/>
<line x1="311.48" x2="311.48" y1="95.30" y2="118.70" stroke="#fff" stroke-opacity="0.12" stroke-width="0.8"/>
<line x1="316.54" x2="316.54" y1="108.10" y2="118.70" stroke="#fff" stroke-opacity="0.12" stroke-width="0.8"/>
<line x1="321.61" x2="321.61" y1="83.60" y2="118.70" stroke="#fff" stroke-opacity="0.12" stroke-width="0.8"/>
<line x1="326.67" x2="326.67" y1="112.30" y2="118.70" stroke="#fff" stroke-opacity="0.12" stroke-width="0.8"/>
<line x1="331.74" x2="331.74" y1="44.10" y2="118.70" stroke="#fff" stroke-opacity="0.12" stroke-width="0.8"/>
<line x1="336.80" x2="336.80" y1="89.80" y2="118.70" stroke="#fff" stroke-opacity="0.12" stroke-width="0.8"/>
<line x1="341.87" x2="341.87" y1="90.90" y2="118.70" stroke="#fff" stroke-opacity="0.12" stroke-width="0.8"/>
<line x1="346.93" x2="346.93" y1="115.10" y2="118.70" stroke="#fff" stroke-opacity="0.12" stroke-width="0.8"/>
<line x1="352.00" x2="352.00" y1="90.90" y2="118.70" stroke="#fff" stroke-opacity="0.12" stroke-width="0.8"/>
<line x1="357.06" x2="357.06" y1="114.00" y2="118.70" stroke="#fff" stroke-opacity="0.12" stroke-width="0.8"/>
<line x1="362.13" x2="362.13" y1="114.50" y2="118.70" stroke="#fff" stroke-opacity="0.12" stroke-width="0.8"/>
<line x1="367.19" x2="367.19" y1="109.00" y2="118.70" stroke="#fff" stroke-opacity="0.12" stroke-width="0.8"/>
<line x1="372.26" x2="372.26" y1="115.10" y2="118.70" stroke="#fff" stroke-opacity="0.12" stroke-width="0.8"/>
<line x1="377.32" x2="377.32" y1="93.90" y2="118.70" stroke="#fff" stroke-opacity="0.12" stroke-width="0.8"/>
<line x1="382.39" x2="382.39" y1="115.10" y2="118.70" stroke="#fff" stroke-opacity="0.12" stroke-width="0.8"/>
<line x1="387.45" x2="387.45" y1="112.30" y2="118.70" stroke="#fff" stroke-opacity="0.12" stroke-width="0.8"/>
<line x1="392.52" x2="392.52" y1="114.50" y2="118.70" stroke="#fff" stroke-opacity="0.12" stroke-width="0.8"/>
<line x1="397.58" x2="397.58" y1="88.60" y2="118.70" stroke="#fff" stroke-opacity="0.12" stroke-width="0.8"/>
<line x1="402.65" x2="402.65" y1="104.80" y2="118.70" stroke="#fff" stroke-opacity="0.12" stroke-width="0.8"/>
<line x1="407.71" x2="407.71" y1="113.70" y2="118.70" stroke="#fff" stroke-opacity="0.12" stroke-width="0.8"/>
<line x1="412.78" x2="412.78" y1="105.90" y2="118.70" stroke="#fff" stroke-opacity="0.12" stroke-width="0.8"/>
<line x1="417.84" x2="417.84" y1="116.20" y2="118.70" stroke="#fff" stroke-opacity="0.12" stroke-width="0.8"/>
<line x1="422.91" x2="422.91" y1="100.10" y2="118.70" stroke="#fff" stroke-opacity="0.12" stroke-width="0.8"/>
<line x1="427.97" x2="427.97" y1="107.60" y2="118.70" stroke="#fff" stroke-opacity="0.12" stroke-width="0.8"/>
<line x1="433.04" x2="433.04" y1="111.80" y2="118.70" stroke="#fff" stroke-opacity="0.12" stroke-width="0.8"/>
<line x1="438.10" x2="438.10" y1="102.80" y2="118.70" stroke="#fff" stroke-opacity="0.12" stroke-width="0.8"/>
<line x1="443.17" x2="443.17" y1="86.40" y2="118.70" stroke="#fff" stroke-opacity="0.12" stroke-width="0.8"/>
<line x1="448.23" x2="448.23" y1="93.70" y2="118.70" stroke="#fff" stroke-opacity="0.12" stroke-width="0.8"/>
<line x1="453.30" x2="453.30" y1="107.60" y2="118.70" stroke="#fff" stroke-opacity="0.12" stroke-width="0.8"/>
<line x1="458.36" x2="458.36" y1="85.90" y2="118.70" stroke="#fff" stroke-opacity="0.12" stroke-width="0.8"/>
<line x1="463.43" x2="463.43" y1="109.50" y2="118.70" stroke="#fff" stroke-opacity="0.12" stroke-width="0.8"/>
<line x1="468.49" x2="468.49" y1="83.90" y2="118.70" stroke="#fff" stroke-opacity="0.12" stroke-width="0.8"/>
<line x1="473.56" x2="473.56" y1="95.90" y2="118.70" stroke="#fff" stroke-opacity="0.12" stroke-width="0.8"/>
<line x1="478.62" x2="478.62" y1="102.00" y2="118.70" stroke="#fff" stroke-opacity="0.12" stroke-width="0.8"/>
<line x1="483.69" x2="483.69" y1="107.00" y2="118.70" stroke="#fff" stroke-opacity="0.12" stroke-width="0.8"/>
<line x1="488.75" x2="488.75" y1="80.00" y2="118.70" stroke="#fff" stroke-opacity="0.12" stroke-width="0.8"/>
<line x1="493.82" x2="493.82" y1="98.40" y2="118.70" stroke="#fff" stroke-opacity="0.12" stroke-width="0.8"/>
<line x1="498.88" x2="498.88" y1="100.90" y2="118.70" stroke="#fff" stroke-opacity="0.12" stroke-width="0.8"/>
<line x1="503.95" x2="503.95" y1="103.70" y2="118.70" stroke="#fff" stroke-opacity="0.12" stroke-width="0.8"/>
<line x1="509.02" x2="509.02" y1="114.30" y2="118.70" stroke="#fff" stroke-opacity="0.12" stroke-width="0.8"/>
<line x1="514.08" x2="514.08" y1="76.70" y2="118.70" stroke="#fff" stroke-opacity="0.12" stroke-width="0.8"/>
<line x1="519.15" x2="519.15" y1="109.80" y2="118.70" stroke="#fff" stroke-opacity="0.12" stroke-width="0.8"/>
<line x1="524.21" x2="524.21" y1="113.70" y2="118.70" stroke="#fff" stroke-opacity="0.12" stroke-width="0.8"/>
<line x1="529.28" x2="529.28" y1="96.40" y2="118.70" stroke="#fff" stroke-opacity="0.12" stroke-width="0.8"/>
<line x1="534.34" x2="534.34" y1="52.70" y2="118.70" stroke="#fff" stroke-opacity="0.12" stroke-width="0.8"/>
<line x1="539.41" x2="539.41" y1="104.20" y2="118.70" stroke="#fff" stroke-opacity="0.12" stroke-width="0.8"/>
<line x1="544.47" x2="544.47" y1="109.00" y2="118.70" stroke="#fff" stroke-opacity="0.12" stroke-width="0.8"/>
<line x1="549.54" x2="549.54" y1="86.70" y2="118.70" stroke="#fff" stroke-opacity="0.12" stroke-width="0.8"/>
<line x1="554.60" x2="554.60" y1="111.20" y2="118.70" stroke="#fff" stroke-opacity="0.12" stroke-width="0.8"/>
<line x1="559.67" x2="559.67" y1="36.80" y2="118.70" stroke="#fff" stroke-opacity="0.12" stroke-width="0.8"/>
<line x1="564.73" x2="564.73" y1="98.90" y2="118.70" stroke="#fff" stroke-opacity="0.12" stroke-width="0.8"/>
<line x1="569.80" x2="569.80" y1="102.00" y2="118.70" stroke="#fff" stroke-opacity="0.12" stroke-width="0.8"/>
<line x1="574.86" x2="574.86" y1="100.30" y2="118.70" stroke="#fff" stroke-opacity="0.12" stroke-width="0.8"/>
<line x1="579.93" x2="579.93" y1="91.70" y2="118.70" stroke="#fff" stroke-opacity="0.12" stroke-width="0.8"/>
<line x1="584.99" x2="584.99" y1="97.80" y2="118.70" stroke="#fff" stroke-opacity="0.12" stroke-width="0.8"/>
<line x1="590.06" x2="590.06" y1="109.30" y2="118.70" stroke="#fff" stroke-opacity="0.12" stroke-width="0.8"/>
<line x1="595.12" x2="595.12" y1="101.50" y2="118.70" stroke="#fff" stroke-opacity="0.12" stroke-width="0.8"/>
<line x1="600.19" x2="600.19" y1="113.70" y2="118.70" stroke="#fff" stroke-opacity="0.12" stroke-width="0.8"/>
<line x1="605.25" x2="605.25" y1="84.70" y2="118.70" stroke="#fff" stroke-opacity="0.12" stroke-width="0.8"/>
<line x1="610.32" x2="610.32" y1="109.80" y2="118.70" stroke="#fff" stroke-opacity="0.12" stroke-width="0.8"/>
<line x1="615.38" x2="615.38" y1="100.90" y2="118.70" stroke="#fff" stroke-opacity="0.12" stroke-width="0.8"/>
<line x1="620.45" x2="620.45" y1="115.40" y2="118.70" stroke="#fff" stroke-opacity="0.12" stroke-width="0.8"/>
<line x1="625.51" x2="625.51" y1="75.00" y2="118.70" stroke="#fff" stroke-opacity="0.12" stroke-width="0.8"/>
<line x1="630.58" x2="630.58" y1="101.50" y2="118.70" stroke="#fff" stroke-opacity="0.12" stroke-width="0.8"/>
<line x1="635.64" x2="635.64" y1="110.10" y2="118.70" stroke="#fff" stroke-opacity="0.12" stroke-width="0.8"/>
<line x1="640.71" x2="640.71" y1="78.90" y2="118.70" stroke="#fff" stroke-opacity="0.12" stroke-width="0.8"/>
<line x1="645.77" x2="645.77" y1="109.00" y2="118.70" stroke="#fff" stroke-opacity="0.12" stroke-width="0.8"/>
<line x1="650.84" x2="650.84" y1="82.00" y2="118.70" stroke="#fff" stroke-opacity="0.12" stroke-width="0.8"/>
<line x1="655.90" x2="655.90" y1="64.70" y2="118.70" stroke="#fff" stroke-opacity="0.12" stroke-width="0.8"/>
<line x1="660.97" x2="660.97" y1="74.20" y2="118.70" stroke="#fff" stroke-opacity="0.12" stroke-width="0.8"/>
<line x1="25.30" x2="70.89" y1="116.5" y2="116.5" stroke="#333" stroke-opacity="0.75" stroke-width="0.8" stroke-dasharray="8 8.3"/>
<circle cx="27.83" cy="52.40" r="1.8" fill="#3F6B9F"/>
<circle cx="32.90" cy="73.30" r="1.8" fill="#4E9450"/>
<circle cx="37.96" cy="87.50" r="1.8" fill="#955F95"/>
<circle cx="43.03" cy="82.50" r="1.8" fill="#479898"/>
<circle cx="48.09" cy="76.90" r="1.8" fill="#D6A53A"/>
<circle cx="53.16" cy="93.90" r="1.8" fill="#5F6AA0"/>
<circle cx="58.22" cy="65.00" r="1.8" fill="#DE7B35"/>
<circle cx="63.29" cy="70.30" r="1.8" fill="#C94A54"/>
<circle cx="68.35" cy="95.00" r="1.8" fill="#7A1018"/>
<line x1="70.89" x2="116.47" y1="116.5" y2="116.5" stroke="#333" stroke-opacity="0.75" stroke-width="0.8" stroke-dasharray="8 8.3"/>
<circle cx="73.42" cy="45.50" r="1.8" fill="#3F6B9F"/>
<circle cx="78.48" cy="71.10" r="1.8" fill="#4E9450"/>
<circle cx="83.55" cy="69.10" r="1.8" fill="#955F95"/>
<circle cx="88.61" cy="68.00" r="1.8" fill="#479898"/>
<circle cx="93.68" cy="67.50" r="1.8" fill="#D6A53A"/>
<circle cx="98.74" cy="87.50" r="1.8" fill="#5F6AA0"/>
<circle cx="103.81" cy="57.40" r="1.8" fill="#DE7B35"/>
<circle cx="108.87" cy="58.80" r="1.8" fill="#C94A54"/>
<circle cx="113.94" cy="99.20" r="1.8" fill="#7A1018"/>
<line x1="116.47" x2="162.06" y1="116.5" y2="116.5" stroke="#333" stroke-opacity="0.75" stroke-width="0.8" stroke-dasharray="8 8.3"/>
<circle cx="119.00" cy="63.00" r="1.8" fill="#3F6B9F"/>
<circle cx="124.07" cy="75.30" r="1.8" fill="#4E9450"/>
<circle cx="129.13" cy="83.10" r="1.8" fill="#955F95"/>
<circle cx="134.20" cy="63.30" r="1.8" fill="#479898"/>
<circle cx="139.26" cy="79.20" r="1.8" fill="#D6A53A"/>
<circle cx="144.33" cy="89.50" r="1.8" fill="#5F6AA0"/>
<circle cx="149.39" cy="67.20" r="1.8" fill="#DE7B35"/>
<circle cx="154.46" cy="27.40" r="1.8" fill="#C94A54"/>
<circle cx="159.52" cy="101.50" r="1.8" fill="#7A1018"/>
<line x1="162.06" x2="207.64" y1="116.5" y2="116.5" stroke="#333" stroke-opacity="0.75" stroke-width="0.8" stroke-dasharray="8 8.3"/>
<circle cx="164.59" cy="42.10" r="1.8" fill="#3F6B9F"/>
<circle cx="169.65" cy="57.70" r="1.8" fill="#4E9450"/>
<circle cx="174.72" cy="66.10" r="1.8" fill="#955F95"/>
<circle cx="179.78" cy="57.70" r="1.8" fill="#479898"/>
<circle cx="184.85" cy="56.30" r="1.8" fill="#D6A53A"/>
<circle cx="189.92" cy="82.20" r="1.8" fill="#5F6AA0"/>
<circle cx="194.98" cy="43.00" r="1.8" fill="#DE7B35"/>
<circle cx="200.05" cy="42.40" r="1.8" fill="#C94A54"/>
<circle cx="205.11" cy="88.90" r="1.8" fill="#7A1018"/>
<line x1="207.64" x2="253.23" y1="116.5" y2="116.5" stroke="#333" stroke-opacity="0.75" stroke-width="0.8" stroke-dasharray="8 8.3"/>
<circle cx="210.18" cy="73.30" r="1.8" fill="#3F6B9F"/>
<circle cx="215.24" cy="62.20" r="1.8" fill="#4E9450"/>
<circle cx="220.31" cy="78.90" r="1.8" fill="#955F95"/>
<circle cx="225.37" cy="75.30" r="1.8" fill="#479898"/>
<circle cx="230.44" cy="71.40" r="1.8" fill="#D6A53A"/>
<circle cx="235.50" cy="89.80" r="1.8" fill="#5F6AA0"/>
<circle cx="240.57" cy="48.50" r="1.8" fill="#DE7B35"/>
<circle cx="245.63" cy="64.40" r="1.8" fill="#C94A54"/>
<circle cx="250.70" cy="93.90" r="1.8" fill="#7A1018"/>
<line x1="253.23" x2="298.81" y1="116.5" y2="116.5" stroke="#333" stroke-opacity="0.75" stroke-width="0.8" stroke-dasharray="8 8.3"/>
<circle cx="255.76" cy="58.60" r="1.8" fill="#3F6B9F"/>
<circle cx="260.83" cy="78.90" r="1.8" fill="#4E9450"/>
<circle cx="265.89" cy="83.30" r="1.8" fill="#955F95"/>
<circle cx="270.96" cy="81.10" r="1.8" fill="#479898"/>
<circle cx="276.02" cy="77.20" r="1.8" fill="#D6A53A"/>
<circle cx="281.09" cy="93.10" r="1.8" fill="#5F6AA0"/>
<circle cx="286.15" cy="58.30" r="1.8" fill="#DE7B35"/>
<circle cx="291.22" cy="48.80" r="1.8" fill="#C94A54"/>
<circle cx="296.28" cy="97.30" r="1.8" fill="#7A1018"/>
<line x1="298.81" x2="344.40" y1="116.5" y2="116.5" stroke="#333" stroke-opacity="0.75" stroke-width="0.8" stroke-dasharray="8 8.3"/>
<circle cx="301.35" cy="49.60" r="1.8" fill="#3F6B9F"/>
<circle cx="306.41" cy="70.00" r="1.8" fill="#4E9450"/>
<circle cx="311.48" cy="88.40" r="1.8" fill="#955F95"/>
<circle cx="316.54" cy="88.40" r="1.8" fill="#479898"/>
<circle cx="321.61" cy="70.80" r="1.8" fill="#D6A53A"/>
<circle cx="326.67" cy="95.30" r="1.8" fill="#5F6AA0"/>
<circle cx="331.74" cy="49.10" r="1.8" fill="#DE7B35"/>
<circle cx="336.80" cy="47.40" r="1.8" fill="#C94A54"/>
<circle cx="341.87" cy="89.50" r="1.8" fill="#7A1018"/>
<line x1="344.40" x2="389.99" y1="116.5" y2="116.5" stroke="#333" stroke-opacity="0.75" stroke-width="0.8" stroke-dasharray="8 8.3"/>
<circle cx="346.93" cy="92.00" r="1.8" fill="#3F6B9F"/>
<circle cx="352.00" cy="83.30" r="1.8" fill="#4E9450"/>
<circle cx="357.06" cy="104.20" r="1.8" fill="#955F95"/>
<circle cx="362.13" cy="97.00" r="1.8" fill="#479898"/>
<circle cx="367.19" cy="91.40" r="1.8" fill="#D6A53A"/>
<circle cx="372.26" cy="99.50" r="1.8" fill="#5F6AA0"/>
<circle cx="377.32" cy="73.90" r="1.8" fill="#DE7B35"/>
<circle cx="382.39" cy="89.50" r="1.8" fill="#C94A54"/>
<circle cx="387.45" cy="104.50" r="1.8" fill="#7A1018"/>
<line x1="389.99" x2="435.57" y1="116.5" y2="116.5" stroke="#333" stroke-opacity="0.75" stroke-width="0.8" stroke-dasharray="8 8.3"/>
<circle cx="392.52" cy="91.70" r="1.8" fill="#3F6B9F"/>
<circle cx="397.58" cy="83.60" r="1.8" fill="#4E9450"/>
<circle cx="402.65" cy="94.20" r="1.8" fill="#955F95"/>
<circle cx="407.71" cy="97.60" r="1.8" fill="#479898"/>
<circle cx="412.78" cy="87.50" r="1.8" fill="#D6A53A"/>
<circle cx="417.84" cy="106.20" r="1.8" fill="#5F6AA0"/>
<circle cx="422.91" cy="81.40" r="1.8" fill="#DE7B35"/>
<circle cx="427.97" cy="71.10" r="1.8" fill="#C94A54"/>
<circle cx="433.04" cy="104.00" r="1.8" fill="#7A1018"/>
<line x1="435.57" x2="481.16" y1="116.5" y2="116.5" stroke="#333" stroke-opacity="0.75" stroke-width="0.8" stroke-dasharray="8 8.3"/>
<circle cx="438.10" cy="66.90" r="1.8" fill="#3F6B9F"/>
<circle cx="443.17" cy="83.30" r="1.8" fill="#4E9450"/>
<circle cx="448.23" cy="86.10" r="1.8" fill="#955F95"/>
<circle cx="453.30" cy="86.40" r="1.8" fill="#479898"/>
<circle cx="458.36" cy="71.10" r="1.8" fill="#D6A53A"/>
<circle cx="463.43" cy="90.30" r="1.8" fill="#5F6AA0"/>
<circle cx="468.49" cy="70.00" r="1.8" fill="#DE7B35"/>
<circle cx="473.56" cy="54.40" r="1.8" fill="#C94A54"/>
<circle cx="478.62" cy="95.60" r="1.8" fill="#7A1018"/>
<line x1="481.16" x2="526.74" y1="116.5" y2="116.5" stroke="#333" stroke-opacity="0.75" stroke-width="0.8" stroke-dasharray="8 8.3"/>
<circle cx="483.69" cy="73.00" r="1.8" fill="#3F6B9F"/>
<circle cx="488.75" cy="80.00" r="1.8" fill="#4E9450"/>
<circle cx="493.82" cy="90.00" r="1.8" fill="#955F95"/>
<circle cx="498.88" cy="78.30" r="1.8" fill="#479898"/>
<circle cx="503.95" cy="86.40" r="1.8" fill="#D6A53A"/>
<circle cx="509.02" cy="100.10" r="1.8" fill="#5F6AA0"/>
<circle cx="514.08" cy="64.40" r="1.8" fill="#DE7B35"/>
<circle cx="519.15" cy="77.50" r="1.8" fill="#C94A54"/>
<circle cx="524.21" cy="107.00" r="1.8" fill="#7A1018"/>
<line x1="526.74" x2="572.33" y1="116.5" y2="116.5" stroke="#333" stroke-opacity="0.75" stroke-width="0.8" stroke-dasharray="8 8.3"/>
<circle cx="529.28" cy="58.00" r="1.8" fill="#3F6B9F"/>
<circle cx="534.34" cy="68.00" r="1.8" fill="#4E9450"/>
<circle cx="539.41" cy="94.50" r="1.8" fill="#955F95"/>
<circle cx="544.47" cy="89.20" r="1.8" fill="#479898"/>
<circle cx="549.54" cy="72.20" r="1.8" fill="#D6A53A"/>
<circle cx="554.60" cy="93.70" r="1.8" fill="#5F6AA0"/>
<circle cx="559.67" cy="44.30" r="1.8" fill="#DE7B35"/>
<circle cx="564.73" cy="58.30" r="1.8" fill="#C94A54"/>
<circle cx="569.80" cy="96.20" r="1.8" fill="#7A1018"/>
<line x1="572.33" x2="617.91" y1="116.5" y2="116.5" stroke="#333" stroke-opacity="0.75" stroke-width="0.8" stroke-dasharray="8 8.3"/>
<circle cx="574.86" cy="57.40" r="1.8" fill="#3F6B9F"/>
<circle cx="579.93" cy="84.20" r="1.8" fill="#4E9450"/>
<circle cx="584.99" cy="87.20" r="1.8" fill="#955F95"/>
<circle cx="590.06" cy="87.20" r="1.8" fill="#479898"/>
<circle cx="595.12" cy="81.40" r="1.8" fill="#D6A53A"/>
<circle cx="600.19" cy="96.70" r="1.8" fill="#5F6AA0"/>
<circle cx="605.25" cy="65.80" r="1.8" fill="#DE7B35"/>
<circle cx="610.32" cy="73.90" r="1.8" fill="#C94A54"/>
<circle cx="615.38" cy="93.90" r="1.8" fill="#7A1018"/>
<line x1="617.91" x2="663.50" y1="116.5" y2="116.5" stroke="#333" stroke-opacity="0.75" stroke-width="0.8" stroke-dasharray="8 8.3"/>
<circle cx="620.45" cy="94.20" r="1.8" fill="#3F6B9F"/>
<circle cx="625.51" cy="78.30" r="1.8" fill="#4E9450"/>
<circle cx="630.58" cy="92.80" r="1.8" fill="#955F95"/>
<circle cx="635.64" cy="91.70" r="1.8" fill="#479898"/>
<circle cx="640.71" cy="69.70" r="1.8" fill="#D6A53A"/>
<circle cx="645.77" cy="90.90" r="1.8" fill="#5F6AA0"/>
<circle cx="650.84" cy="70.50" r="1.8" fill="#DE7B35"/>
<circle cx="655.90" cy="32.90" r="1.8" fill="#C94A54"/>
<circle cx="660.97" cy="82.00" r="1.8" fill="#7A1018"/>
<rect x="25.30" y="7.2" width="45.59" height="12.30" fill="#D9D9D9"/>
<text x="48.09" y="15.4" font-size="6.55" fill="#1a1a1a" text-anchor="middle" stroke="#1a1a1a" stroke-width="0.08">Adipose</text>
<rect x="70.89" y="7.2" width="45.59" height="12.30" fill="#D9D9D9"/>
<text x="93.68" y="15.4" font-size="6.55" fill="#1a1a1a" text-anchor="middle" stroke="#1a1a1a" stroke-width="0.08">Artery</text>
<rect x="116.47" y="7.2" width="45.59" height="12.30" fill="#D9D9D9"/>
<text x="139.26" y="15.4" font-size="6.55" fill="#1a1a1a" text-anchor="middle" stroke="#1a1a1a" stroke-width="0.08">Brain</text>
<rect x="162.06" y="7.2" width="45.59" height="12.30" fill="#D9D9D9"/>
<text x="184.85" y="15.4" font-size="6.55" fill="#1a1a1a" text-anchor="middle" stroke="#1a1a1a" stroke-width="0.08">Conventional</text>
<rect x="207.64" y="7.2" width="45.59" height="12.30" fill="#D9D9D9"/>
<text x="230.44" y="15.4" font-size="6.55" fill="#1a1a1a" text-anchor="middle" stroke="#1a1a1a" stroke-width="0.08">Heart</text>
<rect x="253.23" y="7.2" width="45.59" height="12.30" fill="#D9D9D9"/>
<text x="276.02" y="15.4" font-size="6.55" fill="#1a1a1a" text-anchor="middle" stroke="#1a1a1a" stroke-width="0.08">Immune</text>
<rect x="298.81" y="7.2" width="45.59" height="12.30" fill="#D9D9D9"/>
<text x="321.61" y="15.4" font-size="6.55" fill="#1a1a1a" text-anchor="middle" stroke="#1a1a1a" stroke-width="0.08">Intestine</text>
<rect x="344.40" y="7.2" width="45.59" height="12.30" fill="#D9D9D9"/>
<text x="367.19" y="15.4" font-size="6.55" fill="#1a1a1a" text-anchor="middle" stroke="#1a1a1a" stroke-width="0.08">Kidney</text>
<rect x="389.99" y="7.2" width="45.59" height="12.30" fill="#D9D9D9"/>
<text x="412.78" y="15.4" font-size="6.55" fill="#1a1a1a" text-anchor="middle" stroke="#1a1a1a" stroke-width="0.08">Liver</text>
<rect x="435.57" y="7.2" width="45.59" height="12.30" fill="#D9D9D9"/>
<text x="458.36" y="15.4" font-size="6.55" fill="#1a1a1a" text-anchor="middle" stroke="#1a1a1a" stroke-width="0.08">Lung</text>
<rect x="481.16" y="7.2" width="45.59" height="12.30" fill="#D9D9D9"/>
<text x="503.95" y="15.4" font-size="6.55" fill="#1a1a1a" text-anchor="middle" stroke="#1a1a1a" stroke-width="0.08">Muscle</text>
<rect x="526.74" y="7.2" width="45.59" height="12.30" fill="#D9D9D9"/>
<text x="549.54" y="15.4" font-size="6.55" fill="#1a1a1a" text-anchor="middle" stroke="#1a1a1a" stroke-width="0.08">Pancreas</text>
<rect x="572.33" y="7.2" width="45.59" height="12.30" fill="#D9D9D9"/>
<text x="595.12" y="15.4" font-size="6.55" fill="#1a1a1a" text-anchor="middle" stroke="#1a1a1a" stroke-width="0.08">Skin</text>
<rect x="617.91" y="7.2" width="45.59" height="12.30" fill="#D9D9D9"/>
<text x="640.71" y="15.4" font-size="6.55" fill="#1a1a1a" text-anchor="middle" stroke="#1a1a1a" stroke-width="0.08">Stomach</text>
<line x1="25.05" x2="663.75" y1="7.45" y2="7.45" stroke="#333333" stroke-width="0.5"/>
<line x1="25.05" x2="663.75" y1="19.35" y2="19.35" stroke="#777" stroke-width="0.4"/>
<line x1="25.05" x2="663.75" y1="123.4" y2="123.4" stroke="#333333" stroke-width="0.35"/>
<line x1="70.89" x2="70.89" y1="7.2" y2="123.2" stroke="#333333" stroke-width="0.5"/>
<line x1="116.47" x2="116.47" y1="7.2" y2="123.2" stroke="#333333" stroke-width="0.5"/>
<line x1="162.06" x2="162.06" y1="7.2" y2="123.2" stroke="#333333" stroke-width="0.5"/>
<line x1="207.64" x2="207.64" y1="7.2" y2="123.2" stroke="#333333" stroke-width="0.5"/>
<line x1="253.23" x2="253.23" y1="7.2" y2="123.2" stroke="#333333" stroke-width="0.5"/>
<line x1="298.81" x2="298.81" y1="7.2" y2="123.2" stroke="#333333" stroke-width="0.5"/>
<line x1="344.40" x2="344.40" y1="7.2" y2="123.2" stroke="#333333" stroke-width="0.5"/>
<line x1="389.99" x2="389.99" y1="7.2" y2="123.2" stroke="#333333" stroke-width="0.5"/>
<line x1="435.57" x2="435.57" y1="7.2" y2="123.2" stroke="#333333" stroke-width="0.5"/>
<line x1="481.16" x2="481.16" y1="7.2" y2="123.2" stroke="#333333" stroke-width="0.5"/>
<line x1="526.74" x2="526.74" y1="7.2" y2="123.2" stroke="#333333" stroke-width="0.5"/>
<line x1="572.33" x2="572.33" y1="7.2" y2="123.2" stroke="#333333" stroke-width="0.5"/>
<line x1="617.91" x2="617.91" y1="7.2" y2="123.2" stroke="#333333" stroke-width="0.5"/>
<line x1="663.50" x2="663.50" y1="7.2" y2="123.2" stroke="#333333" stroke-width="0.5"/>
<line x1="22.9" x2="25.3" y1="118.50" y2="118.50" stroke="#888" stroke-width="0.8"/>
<text x="22.1" y="120.70" font-size="7.2" fill="#4d4d4d" text-anchor="end" stroke="#4d4d4d" stroke-width="0.08">0</text>
<line x1="22.9" x2="25.3" y1="89.70" y2="89.70" stroke="#888" stroke-width="0.8"/>
<text x="22.1" y="91.90" font-size="7.2" fill="#4d4d4d" text-anchor="end" stroke="#4d4d4d" stroke-width="0.08">50</text>
<line x1="22.9" x2="25.3" y1="60.90" y2="60.90" stroke="#888" stroke-width="0.8"/>
<text x="22.1" y="63.10" font-size="7.2" fill="#4d4d4d" text-anchor="end" stroke="#4d4d4d" stroke-width="0.08">100</text>
<line x1="22.9" x2="25.3" y1="32.10" y2="32.10" stroke="#888" stroke-width="0.8"/>
<text x="22.1" y="34.30" font-size="7.2" fill="#4d4d4d" text-anchor="end" stroke="#4d4d4d" stroke-width="0.08">150</text>
<line x1="663.5" x2="665.9" y1="118.50" y2="118.50" stroke="#888" stroke-width="0.8"/>
<text x="666.8" y="120.90" font-size="7.2" fill="#4d4d4d" stroke="#4d4d4d" stroke-width="0.08">0.0</text>
<line x1="663.5" x2="665.9" y1="85.86" y2="85.86" stroke="#888" stroke-width="0.8"/>
<text x="666.8" y="88.26" font-size="7.2" fill="#4d4d4d" stroke="#4d4d4d" stroke-width="0.08">0.2</text>
<line x1="663.5" x2="665.9" y1="53.22" y2="53.22" stroke="#888" stroke-width="0.8"/>
<text x="666.8" y="55.62" font-size="7.2" fill="#4d4d4d" stroke="#4d4d4d" stroke-width="0.08">0.4</text>
<line x1="663.5" x2="665.9" y1="20.58" y2="20.58" stroke="#888" stroke-width="0.8"/>
<text x="666.8" y="22.98" font-size="7.2" fill="#4d4d4d" stroke="#4d4d4d" stroke-width="0.08">0.6</text>
<text transform="translate(8.3,68.8) rotate(-90)" font-size="8.1" fill="#000" text-anchor="middle" stroke="#000" stroke-width="0.18">-log10(Pvalue)</text>
<text transform="translate(679.3,70.5) rotate(90)" font-size="7.9" fill="#000" text-anchor="middle" stroke="#000" stroke-width="0.18">Beta</text>
<text x="25.1" y="143.1" font-size="8.15" fill="#000" stroke="#000" stroke-width="0.08">Disease Type</text>
<rect x="24.20" y="151.85" width="10.2" height="6.5" fill="#4A72A0" fill-opacity="0.6" stroke="#8a8a8a" stroke-width="0.7"/>
<ellipse cx="29.30" cy="155.10" rx="2.35" ry="2.6" fill="#4270A8" stroke="#4270A8" stroke-width="0.7"/>
<text x="36.80" y="157.00" font-size="7.95" fill="#000" stroke="#000" stroke-width="0.08">Immune system disease</text>
<rect x="24.20" y="167.65" width="10.2" height="6.5" fill="#6DA6A6" fill-opacity="0.6" stroke="#8a8a8a" stroke-width="0.7"/>
<ellipse cx="29.30" cy="170.90" rx="2.35" ry="2.6" fill="#6BB8B0" stroke="#1a1a1a" stroke-width="0.7"/>
<text x="37.50" y="172.95" font-size="7.95" fill="#000" stroke="#000" stroke-width="0.08">Nervous system disease</text>
<rect x="24.20" y="182.25" width="10.2" height="6.5" fill="#DE8A4C" fill-opacity="0.6" stroke="#8a8a8a" stroke-width="0.7"/>
<ellipse cx="29.30" cy="185.50" rx="2.35" ry="2.6" fill="#F0953A" stroke="#1a1a1a" stroke-width="0.7"/>
<text x="38.00" y="188.75" font-size="7.95" fill="#000" stroke="#000" stroke-width="0.08">Endocrine/metabolic disease</text>
<rect x="176.10" y="150.95" width="10.2" height="6.5" fill="#5C9A5C" fill-opacity="0.6" stroke="#8a8a8a" stroke-width="0.7"/>
<ellipse cx="181.20" cy="154.20" rx="2.35" ry="2.6" fill="#4FA050" stroke="#1a1a1a" stroke-width="0.7"/>
<text x="188.90" y="157.00" font-size="7.95" fill="#000" stroke="#000" stroke-width="0.08">Circulatory system disease</text>
<rect x="176.10" y="166.25" width="10.2" height="6.5" fill="#D9B560" fill-opacity="0.6" stroke="#8a8a8a" stroke-width="0.7"/>
<ellipse cx="181.20" cy="169.50" rx="2.35" ry="2.6" fill="#F0C040" stroke="#1a1a1a" stroke-width="0.7"/>
<text x="189.00" y="172.95" font-size="7.95" fill="#000" stroke="#000" stroke-width="0.08">Respiratory system disease</text>
<rect x="176.10" y="182.15" width="10.2" height="6.5" fill="#CC5558" fill-opacity="0.6" stroke="#8a8a8a" stroke-width="0.7"/>
<ellipse cx="181.20" cy="185.40" rx="2.35" ry="2.6" fill="#D8505A" stroke="#1a1a1a" stroke-width="0.7"/>
<text x="189.20" y="188.75" font-size="7.95" fill="#000" stroke="#000" stroke-width="0.08">Mental and behavioural disorder</text>
<rect x="316.10" y="150.95" width="10.2" height="6.5" fill="#9C739C" fill-opacity="0.6" stroke="#8a8a8a" stroke-width="0.7"/>
<ellipse cx="321.20" cy="154.20" rx="2.35" ry="2.6" fill="#B070B0" stroke="#1a1a1a" stroke-width="0.7"/>
<text x="328.70" y="157.00" font-size="7.95" fill="#000" stroke="#000" stroke-width="0.08">Muscleskeletal system disease</text>
<rect x="316.10" y="166.25" width="10.2" height="6.5" fill="#7F86A8" fill-opacity="0.6" stroke="#8a8a8a" stroke-width="0.7"/>
<ellipse cx="321.20" cy="169.50" rx="2.35" ry="2.6" fill="#7C88B8" stroke="#1a1a1a" stroke-width="0.7"/>
<text x="328.70" y="172.95" font-size="7.95" fill="#000" stroke="#000" stroke-width="0.08">Skin and subcutaneous tissue disease</text>
<rect x="316.10" y="182.15" width="10.2" height="6.5" fill="#731C20" fill-opacity="0.6" stroke="#8a8a8a" stroke-width="0.7"/>
<ellipse cx="321.20" cy="185.40" rx="2.35" ry="2.6" fill="#8A0A14" stroke="#1a1a1a" stroke-width="0.7"/>
<text x="328.70" y="188.75" font-size="7.95" fill="#000" stroke="#000" stroke-width="0.08">Digestive system disease</text>
<text x="502.9" y="143.1" font-size="8.15" fill="#000" stroke="#000" stroke-width="0.08">Data Type</text>
<circle cx="507.7" cy="153.3" r="2.3" fill="#A0709E" stroke="#333" stroke-width="0.6"/>
<text x="516.6" y="155.8" font-size="7.9" fill="#000" stroke="#000" stroke-width="0.08">Beta</text>
<rect x="503.4" y="164.2" width="9.2" height="6.5" fill="#C9A8C8" stroke="#888" stroke-width="0.7"/>
<text x="516.3" y="170.5" font-size="7.9" fill="#000" stroke="#000" stroke-width="0.08">-log10(Pvalue)</text>
<text x="-0.5" y="214.6" font-size="14.5" font-weight="bold" fill="#000">b</text>
<rect x="29.00" y="325.90" width="9.6" height="3.30" fill="#4A72A0"/>
<rect x="29.00" y="317.20" width="9.6" height="8.70" fill="#DE8A4C"/>
<rect x="29.00" y="314.40" width="9.6" height="2.80" fill="#CC5558"/>
<rect x="29.00" y="310.00" width="9.6" height="4.40" fill="#6DA6A6"/>
<rect x="29.00" y="295.00" width="9.6" height="15.00" fill="#5C9A5C"/>
<rect x="29.00" y="284.80" width="9.6" height="10.20" fill="#D9B560"/>
<rect x="29.00" y="271.60" width="9.6" height="13.20" fill="#9C739C"/>
<rect x="29.00" y="270.80" width="9.6" height="0.80" fill="#7F86A8"/>
<rect x="29.00" y="261.00" width="9.6" height="9.80" fill="#731C20"/>
<text transform="translate(35.90,331.8) rotate(-90)" font-size="7.8" fill="#2a2a2a" text-anchor="end" stroke="#2a2a2a" stroke-width="0.18">Adipose</text>
<rect x="42.68" y="327.10" width="9.6" height="2.10" fill="#4A72A0"/>
<rect x="42.68" y="318.70" width="9.6" height="8.40" fill="#DE8A4C"/>
<rect x="42.68" y="316.10" width="9.6" height="2.60" fill="#CC5558"/>
<rect x="42.68" y="311.40" width="9.6" height="4.70" fill="#6DA6A6"/>
<rect x="42.68" y="288.90" width="9.6" height="22.50" fill="#5C9A5C"/>
<rect x="42.68" y="280.90" width="9.6" height="8.00" fill="#D9B560"/>
<rect x="42.68" y="261.00" width="9.6" height="19.90" fill="#9C739C"/>
<rect x="42.68" y="259.70" width="9.6" height="1.30" fill="#7F86A8"/>
<rect x="42.68" y="243.90" width="9.6" height="15.80" fill="#731C20"/>
<text transform="translate(49.58,331.8) rotate(-90)" font-size="7.8" fill="#2a2a2a" text-anchor="end" stroke="#2a2a2a" stroke-width="0.18">Artery</text>
<rect x="56.36" y="325.90" width="9.6" height="3.30" fill="#4A72A0"/>
<rect x="56.36" y="317.20" width="9.6" height="8.70" fill="#DE8A4C"/>
<rect x="56.36" y="313.10" width="9.6" height="4.10" fill="#CC5558"/>
<rect x="56.36" y="307.50" width="9.6" height="5.60" fill="#6DA6A6"/>
<rect x="56.36" y="284.00" width="9.6" height="23.50" fill="#5C9A5C"/>
<rect x="56.36" y="274.90" width="9.6" height="9.10" fill="#D9B560"/>
<rect x="56.36" y="258.10" width="9.6" height="16.80" fill="#9C739C"/>
<rect x="56.36" y="256.70" width="9.6" height="1.40" fill="#7F86A8"/>
<rect x="56.36" y="243.90" width="9.6" height="12.80" fill="#731C20"/>
<text transform="translate(63.26,331.8) rotate(-90)" font-size="7.8" fill="#2a2a2a" text-anchor="end" stroke="#2a2a2a" stroke-width="0.18">Brain</text>
<rect x="70.04" y="327.20" width="9.6" height="2.00" fill="#4A72A0"/>
<rect x="70.04" y="318.70" width="9.6" height="8.50" fill="#DE8A4C"/>
<rect x="70.04" y="317.20" width="9.6" height="1.50" fill="#6DA6A6"/>
<rect x="70.04" y="300.40" width="9.6" height="16.80" fill="#5C9A5C"/>
<rect x="70.04" y="293.00" width="9.6" height="7.40" fill="#D9B560"/>
<rect x="70.04" y="287.60" width="9.6" height="5.40" fill="#9C739C"/>
<rect x="70.04" y="286.10" width="9.6" height="1.50" fill="#7F86A8"/>
<text transform="translate(76.94,331.8) rotate(-90)" font-size="7.8" fill="#2a2a2a" text-anchor="end" stroke="#2a2a2a" stroke-width="0.18">Heart</text>
<rect x="83.72" y="327.10" width="9.6" height="2.10" fill="#4A72A0"/>
<rect x="83.72" y="318.70" width="9.6" height="8.40" fill="#DE8A4C"/>
<rect x="83.72" y="316.10" width="9.6" height="2.60" fill="#CC5558"/>
<rect x="83.72" y="314.10" width="9.6" height="2.00" fill="#6DA6A6"/>
<rect x="83.72" y="296.00" width="9.6" height="18.10" fill="#5C9A5C"/>
<rect x="83.72" y="287.80" width="9.6" height="8.20" fill="#D9B560"/>
<rect x="83.72" y="273.30" width="9.6" height="14.50" fill="#9C739C"/>
<rect x="83.72" y="272.00" width="9.6" height="1.30" fill="#7F86A8"/>
<rect x="83.72" y="250.90" width="9.6" height="21.10" fill="#731C20"/>
<text transform="translate(90.62,331.8) rotate(-90)" font-size="7.8" fill="#2a2a2a" text-anchor="end" stroke="#2a2a2a" stroke-width="0.18">Immune</text>
<rect x="97.40" y="327.10" width="9.6" height="2.10" fill="#4A72A0"/>
<rect x="97.40" y="317.20" width="9.6" height="9.90" fill="#DE8A4C"/>
<rect x="97.40" y="314.10" width="9.6" height="3.10" fill="#CC5558"/>
<rect x="97.40" y="311.40" width="9.6" height="2.70" fill="#6DA6A6"/>
<rect x="97.40" y="295.00" width="9.6" height="16.40" fill="#5C9A5C"/>
<rect x="97.40" y="284.80" width="9.6" height="10.20" fill="#D9B560"/>
<rect x="97.40" y="269.20" width="9.6" height="15.60" fill="#9C739C"/>
<rect x="97.40" y="267.80" width="9.6" height="1.40" fill="#7F86A8"/>
<rect x="97.40" y="261.00" width="9.6" height="6.80" fill="#731C20"/>
<text transform="translate(104.30,331.8) rotate(-90)" font-size="7.8" fill="#2a2a2a" text-anchor="end" stroke="#2a2a2a" stroke-width="0.18">Intestine</text>
<rect x="111.08" y="327.20" width="9.6" height="2.00" fill="#4A72A0"/>
<rect x="111.08" y="318.50" width="9.6" height="8.70" fill="#DE8A4C"/>
<rect x="111.08" y="316.90" width="9.6" height="1.60" fill="#CC5558"/>
<rect x="111.08" y="314.10" width="9.6" height="2.80" fill="#6DA6A6"/>
<rect x="111.08" y="298.00" width="9.6" height="16.10" fill="#5C9A5C"/>
<rect x="111.08" y="290.60" width="9.6" height="7.40" fill="#D9B560"/>
<rect x="111.08" y="277.70" width="9.6" height="12.90" fill="#9C739C"/>
<rect x="111.08" y="276.30" width="9.6" height="1.40" fill="#7F86A8"/>
<rect x="111.08" y="253.80" width="9.6" height="22.50" fill="#731C20"/>
<text transform="translate(117.98,331.8) rotate(-90)" font-size="7.8" fill="#2a2a2a" text-anchor="end" stroke="#2a2a2a" stroke-width="0.18">Kidney</text>
<rect x="124.76" y="328.40" width="9.6" height="0.80" fill="#4A72A0"/>
<rect x="124.76" y="318.50" width="9.6" height="9.90" fill="#DE8A4C"/>
<rect x="124.76" y="317.20" width="9.6" height="1.30" fill="#CC5558"/>
<rect x="124.76" y="316.10" width="9.6" height="1.10" fill="#6DA6A6"/>
<rect x="124.76" y="298.00" width="9.6" height="18.10" fill="#5C9A5C"/>
<rect x="124.76" y="290.60" width="9.6" height="7.40" fill="#D9B560"/>
<rect x="124.76" y="278.60" width="9.6" height="12.00" fill="#9C739C"/>
<rect x="124.76" y="277.40" width="9.6" height="1.20" fill="#7F86A8"/>
<rect x="124.76" y="272.10" width="9.6" height="5.30" fill="#731C20"/>
<text transform="translate(131.66,331.8) rotate(-90)" font-size="7.8" fill="#2a2a2a" text-anchor="end" stroke="#2a2a2a" stroke-width="0.18">Liver</text>
<rect x="138.44" y="328.50" width="9.6" height="0.70" fill="#4A72A0"/>
<rect x="138.44" y="326.00" width="9.6" height="2.50" fill="#DE8A4C"/>
<rect x="138.44" y="324.10" width="9.6" height="1.90" fill="#CC5558"/>
<rect x="138.44" y="311.90" width="9.6" height="12.20" fill="#5C9A5C"/>
<rect x="138.44" y="304.50" width="9.6" height="7.40" fill="#D9B560"/>
<rect x="138.44" y="303.70" width="9.6" height="0.80" fill="#9C739C"/>
<rect x="138.44" y="302.90" width="9.6" height="0.80" fill="#7F86A8"/>
<rect x="138.44" y="301.60" width="9.6" height="1.30" fill="#731C20"/>
<text transform="translate(145.34,331.8) rotate(-90)" font-size="7.8" fill="#2a2a2a" text-anchor="end" stroke="#2a2a2a" stroke-width="0.18">Lung</text>
<rect x="152.12" y="329.00" width="9.6" height="0.20" fill="#4A72A0"/>
<rect x="152.12" y="324.10" width="9.6" height="4.90" fill="#DE8A4C"/>
<rect x="152.12" y="320.00" width="9.6" height="4.10" fill="#6DA6A6"/>
<rect x="152.12" y="311.90" width="9.6" height="8.10" fill="#5C9A5C"/>
<rect x="152.12" y="305.90" width="9.6" height="6.00" fill="#D9B560"/>
<rect x="152.12" y="297.10" width="9.6" height="8.80" fill="#9C739C"/>
<rect x="152.12" y="296.00" width="9.6" height="1.10" fill="#7F86A8"/>
<rect x="152.12" y="294.70" width="9.6" height="1.30" fill="#731C20"/>
<text transform="translate(159.02,331.8) rotate(-90)" font-size="7.8" fill="#2a2a2a" text-anchor="end" stroke="#2a2a2a" stroke-width="0.18">Muscle</text>
<rect x="165.80" y="327.10" width="9.6" height="2.10" fill="#4A72A0"/>
<rect x="165.80" y="317.40" width="9.6" height="9.70" fill="#DE8A4C"/>
<rect x="165.80" y="316.10" width="9.6" height="1.30" fill="#CC5558"/>
<rect x="165.80" y="299.10" width="9.6" height="17.00" fill="#5C9A5C"/>
<rect x="165.80" y="288.90" width="9.6" height="10.20" fill="#D9B560"/>
<rect x="165.80" y="284.80" width="9.6" height="4.10" fill="#9C739C"/>
<rect x="165.80" y="283.50" width="9.6" height="1.30" fill="#7F86A8"/>
<rect x="165.80" y="272.10" width="9.6" height="11.40" fill="#731C20"/>
<text transform="translate(172.70,331.8) rotate(-90)" font-size="7.8" fill="#2a2a2a" text-anchor="end" stroke="#2a2a2a" stroke-width="0.18">Pancreas</text>
<rect x="179.48" y="328.40" width="9.6" height="0.80" fill="#4A72A0"/>
<rect x="179.48" y="319.80" width="9.6" height="8.60" fill="#DE8A4C"/>
<rect x="179.48" y="317.40" width="9.6" height="2.40" fill="#CC5558"/>
<rect x="179.48" y="309.00" width="9.6" height="8.40" fill="#5C9A5C"/>
<rect x="179.48" y="302.10" width="9.6" height="6.90" fill="#D9B560"/>
<rect x="179.48" y="286.00" width="9.6" height="16.10" fill="#9C739C"/>
<rect x="179.48" y="285.10" width="9.6" height="0.90" fill="#7F86A8"/>
<rect x="179.48" y="268.00" width="9.6" height="17.10" fill="#731C20"/>
<text transform="translate(186.38,331.8) rotate(-90)" font-size="7.8" fill="#2a2a2a" text-anchor="end" stroke="#2a2a2a" stroke-width="0.18">Skin</text>
<rect x="193.16" y="327.10" width="9.6" height="2.10" fill="#4A72A0"/>
<rect x="193.16" y="321.00" width="9.6" height="6.10" fill="#DE8A4C"/>
<rect x="193.16" y="318.80" width="9.6" height="2.20" fill="#CC5558"/>
<rect x="193.16" y="303.20" width="9.6" height="15.60" fill="#5C9A5C"/>
<rect x="193.16" y="294.70" width="9.6" height="8.50" fill="#D9B560"/>
<rect x="193.16" y="281.80" width="9.6" height="12.90" fill="#9C739C"/>
<rect x="193.16" y="279.00" width="9.6" height="2.80" fill="#7F86A8"/>
<rect x="193.16" y="250.90" width="9.6" height="28.10" fill="#731C20"/>
<text transform="translate(200.06,331.8) rotate(-90)" font-size="7.8" fill="#2a2a2a" text-anchor="end" stroke="#2a2a2a" stroke-width="0.18">Stomach</text>
<rect x="206.84" y="325.90" width="9.6" height="3.30" fill="#4A72A0"/>
<rect x="206.84" y="316.10" width="9.6" height="9.80" fill="#DE8A4C"/>
<rect x="206.84" y="312.00" width="9.6" height="4.10" fill="#CC5558"/>
<rect x="206.84" y="304.50" width="9.6" height="7.50" fill="#6DA6A6"/>
<rect x="206.84" y="281.00" width="9.6" height="23.50" fill="#5C9A5C"/>
<rect x="206.84" y="270.90" width="9.6" height="10.10" fill="#D9B560"/>
<rect x="206.84" y="250.00" width="9.6" height="20.90" fill="#9C739C"/>
<rect x="206.84" y="248.30" width="9.6" height="1.70" fill="#7F86A8"/>
<rect x="206.84" y="228.60" width="9.6" height="19.70" fill="#731C20"/>
<text transform="translate(213.74,331.8) rotate(-90)" font-size="7.8" fill="#2a2a2a" text-anchor="end" stroke="#2a2a2a" stroke-width="0.18">Conventional</text>
<line x1="25.4" x2="25.4" y1="217.1" y2="329.7" stroke="#222" stroke-width="0.9"/>
<line x1="24.0" x2="220.3" y1="329.45" y2="329.45" stroke="#222" stroke-width="0.6"/>
<text x="23.1" y="331.80" font-size="7.5" fill="#2a2a2a" text-anchor="end" stroke="#2a2a2a" stroke-width="0.08">0</text>
<line x1="22.9" x2="25.4" y1="273.2" y2="273.2" stroke="#222" stroke-width="0.8"/>
<text x="23.1" y="275.80" font-size="7.5" fill="#2a2a2a" text-anchor="end" stroke="#2a2a2a" stroke-width="0.08">60</text>
<line x1="22.9" x2="25.4" y1="217.2" y2="217.2" stroke="#222" stroke-width="0.8"/>
<text x="23.1" y="219.80" font-size="7.5" fill="#2a2a2a" text-anchor="end" stroke="#2a2a2a" stroke-width="0.08">120</text>
<text transform="translate(9.7,274.4) rotate(-90)" font-size="7.5" fill="#000" text-anchor="middle" stroke="#000" stroke-width="0.18">Disease count</text>
<rect x="227.9" y="231.25" width="7.1" height="4.4" fill="#4A72A0" stroke="#333" stroke-width="0.5"/>
<text x="236.8" y="236.00" font-size="7.8" fill="#000" stroke="#000" stroke-width="0.08">Immune system disease</text>
<rect x="227.9" y="242.65" width="7.1" height="4.4" fill="#DE8A4C" stroke="#333" stroke-width="0.5"/>
<text x="236.8" y="247.50" font-size="7.8" fill="#000" stroke="#000" stroke-width="0.08">Endocrine/metabolic diseases</text>
<rect x="227.9" y="254.05" width="7.1" height="4.4" fill="#CC5558" stroke="#333" stroke-width="0.5"/>
<text x="236.8" y="259.00" font-size="7.8" fill="#000" stroke="#000" stroke-width="0.08">Mental and behavioural disorder</text>
<rect x="227.9" y="265.45" width="7.1" height="4.4" fill="#6DA6A6" stroke="#333" stroke-width="0.5"/>
<text x="236.8" y="270.50" font-size="7.8" fill="#000" stroke="#000" stroke-width="0.08">Nervous system diseasa</text>
<rect x="227.9" y="276.85" width="7.1" height="4.4" fill="#5C9A5C" stroke="#333" stroke-width="0.5"/>
<text x="236.8" y="282.00" font-size="7.8" fill="#000" stroke="#000" stroke-width="0.08">Circulatory system disease</text>
<rect x="227.9" y="288.25" width="7.1" height="4.4" fill="#D9B560" stroke="#333" stroke-width="0.5"/>
<text x="236.8" y="293.50" font-size="7.8" fill="#000" stroke="#000" stroke-width="0.08">Respiratory system disease</text>
<rect x="227.9" y="299.65" width="7.1" height="4.4" fill="#9C739C" stroke="#333" stroke-width="0.5"/>
<text x="236.8" y="305.00" font-size="7.8" fill="#000" stroke="#000" stroke-width="0.08">Muscleskeletal system disease</text>
<rect x="227.9" y="311.05" width="7.1" height="4.4" fill="#7F86A8" stroke="#333" stroke-width="0.5"/>
<text x="236.8" y="316.50" font-size="7.8" fill="#000" stroke="#000" stroke-width="0.08">Skin and subcutaneous tissue diseases</text>
<rect x="227.9" y="322.45" width="7.1" height="4.4" fill="#731C20" stroke="#333" stroke-width="0.5"/>
<text x="236.8" y="328.00" font-size="7.8" fill="#000" stroke="#000" stroke-width="0.08">Digestive system disease</text>
<text x="398.5" y="215.1" font-size="14.3" font-weight="bold" fill="#000">c</text>
<text x="540.4" y="218.3" font-size="7.85" fill="#000" text-anchor="middle" stroke="#000" stroke-width="0.08">Association between AD and organ aging</text>
<line x1="435.2" x2="667.3" y1="300.4" y2="300.4" stroke="#999" stroke-width="0.9" stroke-dasharray="3.6 2.7"/>
<line x1="445.00" x2="445.00" y1="239.9" y2="259.6" stroke="#555" stroke-width="1.0"/>
<circle cx="445.00" cy="249.7" r="2.5" fill="#A8D4E2" stroke="#333" stroke-width="0.7"/>
<line x1="445.00" x2="445.00" y1="327.6" y2="330.6" stroke="#222" stroke-width="0.5"/>
<text transform="translate(446.80,332.3) rotate(-90)" font-size="7.7" fill="#2a2a2a" text-anchor="end" stroke="#2a2a2a" stroke-width="0.18">Brain</text>
<line x1="460.10" x2="460.10" y1="259.2" y2="277.4" stroke="#555" stroke-width="1.0"/>
<circle cx="460.10" cy="268.7" r="2.5" fill="#A8D4E2" stroke="#333" stroke-width="0.7"/>
<line x1="460.10" x2="460.10" y1="327.6" y2="330.6" stroke="#222" stroke-width="0.5"/>
<text transform="translate(461.90,332.3) rotate(-90)" font-size="7.7" fill="#2a2a2a" text-anchor="end" stroke="#2a2a2a" stroke-width="0.18">Conventional</text>
<line x1="475.20" x2="475.20" y1="279.5" y2="295.5" stroke="#555" stroke-width="1.0"/>
<circle cx="475.20" cy="287.5" r="2.5" fill="#A8D4E2" stroke="#333" stroke-width="0.7"/>
<line x1="475.20" x2="475.20" y1="327.6" y2="330.6" stroke="#222" stroke-width="0.5"/>
<text transform="translate(477.00,332.3) rotate(-90)" font-size="7.7" fill="#2a2a2a" text-anchor="end" stroke="#2a2a2a" stroke-width="0.18">Artery</text>
<line x1="490.30" x2="490.30" y1="279.1" y2="296.3" stroke="#555" stroke-width="1.0"/>
<circle cx="490.30" cy="287.8" r="2.5" fill="#A8D4E2" stroke="#333" stroke-width="0.7"/>
<line x1="490.30" x2="490.30" y1="327.6" y2="330.6" stroke="#222" stroke-width="0.5"/>
<text transform="translate(492.10,332.3) rotate(-90)" font-size="7.7" fill="#2a2a2a" text-anchor="end" stroke="#2a2a2a" stroke-width="0.18">Adipose</text>
<line x1="505.40" x2="505.40" y1="277.3" y2="298.5" stroke="#555" stroke-width="1.0"/>
<circle cx="505.40" cy="288.2" r="2.5" fill="#A8D4E2" stroke="#333" stroke-width="0.7"/>
<line x1="505.40" x2="505.40" y1="327.6" y2="330.6" stroke="#222" stroke-width="0.5"/>
<text transform="translate(507.20,332.3) rotate(-90)" font-size="7.7" fill="#2a2a2a" text-anchor="end" stroke="#2a2a2a" stroke-width="0.18">Intestine</text>
<line x1="520.50" x2="520.50" y1="279.9" y2="300.7" stroke="#555" stroke-width="1.0"/>
<circle cx="520.50" cy="289.7" r="2.5" fill="#A8D4E2" stroke="#333" stroke-width="0.7"/>
<line x1="520.50" x2="520.50" y1="327.6" y2="330.6" stroke="#222" stroke-width="0.5"/>
<text transform="translate(522.30,332.3) rotate(-90)" font-size="7.7" fill="#2a2a2a" text-anchor="end" stroke="#2a2a2a" stroke-width="0.18">Heart</text>
<line x1="535.60" x2="535.60" y1="283.1" y2="302.8" stroke="#555" stroke-width="1.0"/>
<circle cx="535.60" cy="293.1" r="2.5" fill="#A8D4E2" stroke="#333" stroke-width="0.7"/>
<line x1="535.60" x2="535.60" y1="327.6" y2="330.6" stroke="#222" stroke-width="0.5"/>
<text transform="translate(537.40,332.3) rotate(-90)" font-size="7.7" fill="#2a2a2a" text-anchor="end" stroke="#2a2a2a" stroke-width="0.18">Muscle</text>
<line x1="550.70" x2="550.70" y1="281.0" y2="305.0" stroke="#555" stroke-width="1.0"/>
<circle cx="550.70" cy="293.1" r="2.5" fill="#A8D4E2" stroke="#333" stroke-width="0.7"/>
<line x1="550.70" x2="550.70" y1="327.6" y2="330.6" stroke="#222" stroke-width="0.5"/>
<text transform="translate(552.50,332.3) rotate(-90)" font-size="7.7" fill="#2a2a2a" text-anchor="end" stroke="#2a2a2a" stroke-width="0.18">Pancreas</text>
<line x1="565.80" x2="565.80" y1="284.2" y2="304.3" stroke="#555" stroke-width="1.0"/>
<circle cx="565.80" cy="294.1" r="2.5" fill="#A8D4E2" stroke="#333" stroke-width="0.7"/>
<line x1="565.80" x2="565.80" y1="327.6" y2="330.6" stroke="#222" stroke-width="0.5"/>
<text transform="translate(567.60,332.3) rotate(-90)" font-size="7.7" fill="#2a2a2a" text-anchor="end" stroke="#2a2a2a" stroke-width="0.18">Immune</text>
<line x1="580.90" x2="580.90" y1="284.6" y2="305.3" stroke="#555" stroke-width="1.0"/>
<circle cx="580.90" cy="295.1" r="2.5" fill="#A8D4E2" stroke="#333" stroke-width="0.7"/>
<line x1="580.90" x2="580.90" y1="327.6" y2="330.6" stroke="#222" stroke-width="0.5"/>
<text transform="translate(582.70,332.3) rotate(-90)" font-size="7.7" fill="#2a2a2a" text-anchor="end" stroke="#2a2a2a" stroke-width="0.18">Liver</text>
<line x1="596.00" x2="596.00" y1="287.1" y2="307.7" stroke="#555" stroke-width="1.0"/>
<circle cx="596.00" cy="297.3" r="2.5" fill="#A8D4E2" stroke="#333" stroke-width="0.7"/>
<line x1="596.00" x2="596.00" y1="327.6" y2="330.6" stroke="#222" stroke-width="0.5"/>
<text transform="translate(597.80,332.3) rotate(-90)" font-size="7.7" fill="#2a2a2a" text-anchor="end" stroke="#2a2a2a" stroke-width="0.18">Stomach</text>
<line x1="611.10" x2="611.10" y1="292.5" y2="311.7" stroke="#555" stroke-width="1.0"/>
<circle cx="611.10" cy="301.8" r="2.5" fill="#A8D4E2" stroke="#333" stroke-width="0.7"/>
<line x1="611.10" x2="611.10" y1="327.6" y2="330.6" stroke="#222" stroke-width="0.5"/>
<text transform="translate(612.90,332.3) rotate(-90)" font-size="7.7" fill="#2a2a2a" text-anchor="end" stroke="#2a2a2a" stroke-width="0.18">Kidney</text>
<line x1="626.20" x2="626.20" y1="291.5" y2="313.5" stroke="#555" stroke-width="1.0"/>
<circle cx="626.20" cy="302.1" r="2.5" fill="#A8D4E2" stroke="#333" stroke-width="0.7"/>
<line x1="626.20" x2="626.20" y1="327.6" y2="330.6" stroke="#222" stroke-width="0.5"/>
<text transform="translate(628.00,332.3) rotate(-90)" font-size="7.7" fill="#2a2a2a" text-anchor="end" stroke="#2a2a2a" stroke-width="0.18">Skin</text>
<line x1="641.30" x2="641.30" y1="303.9" y2="323.3" stroke="#555" stroke-width="1.0"/>
<circle cx="641.30" cy="313.5" r="2.5" fill="#A8D4E2" stroke="#333" stroke-width="0.7"/>
<line x1="641.30" x2="641.30" y1="327.6" y2="330.6" stroke="#222" stroke-width="0.5"/>
<text transform="translate(643.10,332.3) rotate(-90)" font-size="7.7" fill="#2a2a2a" text-anchor="end" stroke="#2a2a2a" stroke-width="0.18">Lung</text>
<line x1="434.6" x2="434.6" y1="235.1" y2="327.9" stroke="#222" stroke-width="0.9"/>
<line x1="434.2" x2="667.3" y1="327.5" y2="327.5" stroke="#222" stroke-width="0.55"/>
<line x1="431.6" x2="434.6" y1="263.6" y2="263.6" stroke="#333" stroke-width="0.8"/>
<text x="430.9" y="266.60" font-size="7.6" fill="#2a2a2a" text-anchor="end" stroke="#2a2a2a" stroke-width="0.08">0.5</text>
<line x1="431.6" x2="434.6" y1="300.4" y2="300.4" stroke="#333" stroke-width="0.8"/>
<text x="430.9" y="303.40" font-size="7.6" fill="#2a2a2a" text-anchor="end" stroke="#2a2a2a" stroke-width="0.08">0.0</text>
<text transform="translate(406.3,285.75) rotate(-90)" font-size="7.9" fill="#000" text-anchor="middle" stroke="#000" stroke-width="0.18">Standard deviation increase</text>
<text transform="translate(416.2,285.75) rotate(-90)" font-size="7.9" fill="#000" text-anchor="middle" stroke="#000" stroke-width="0.18">in delta age</text>
</svg></div>
</body></html>
